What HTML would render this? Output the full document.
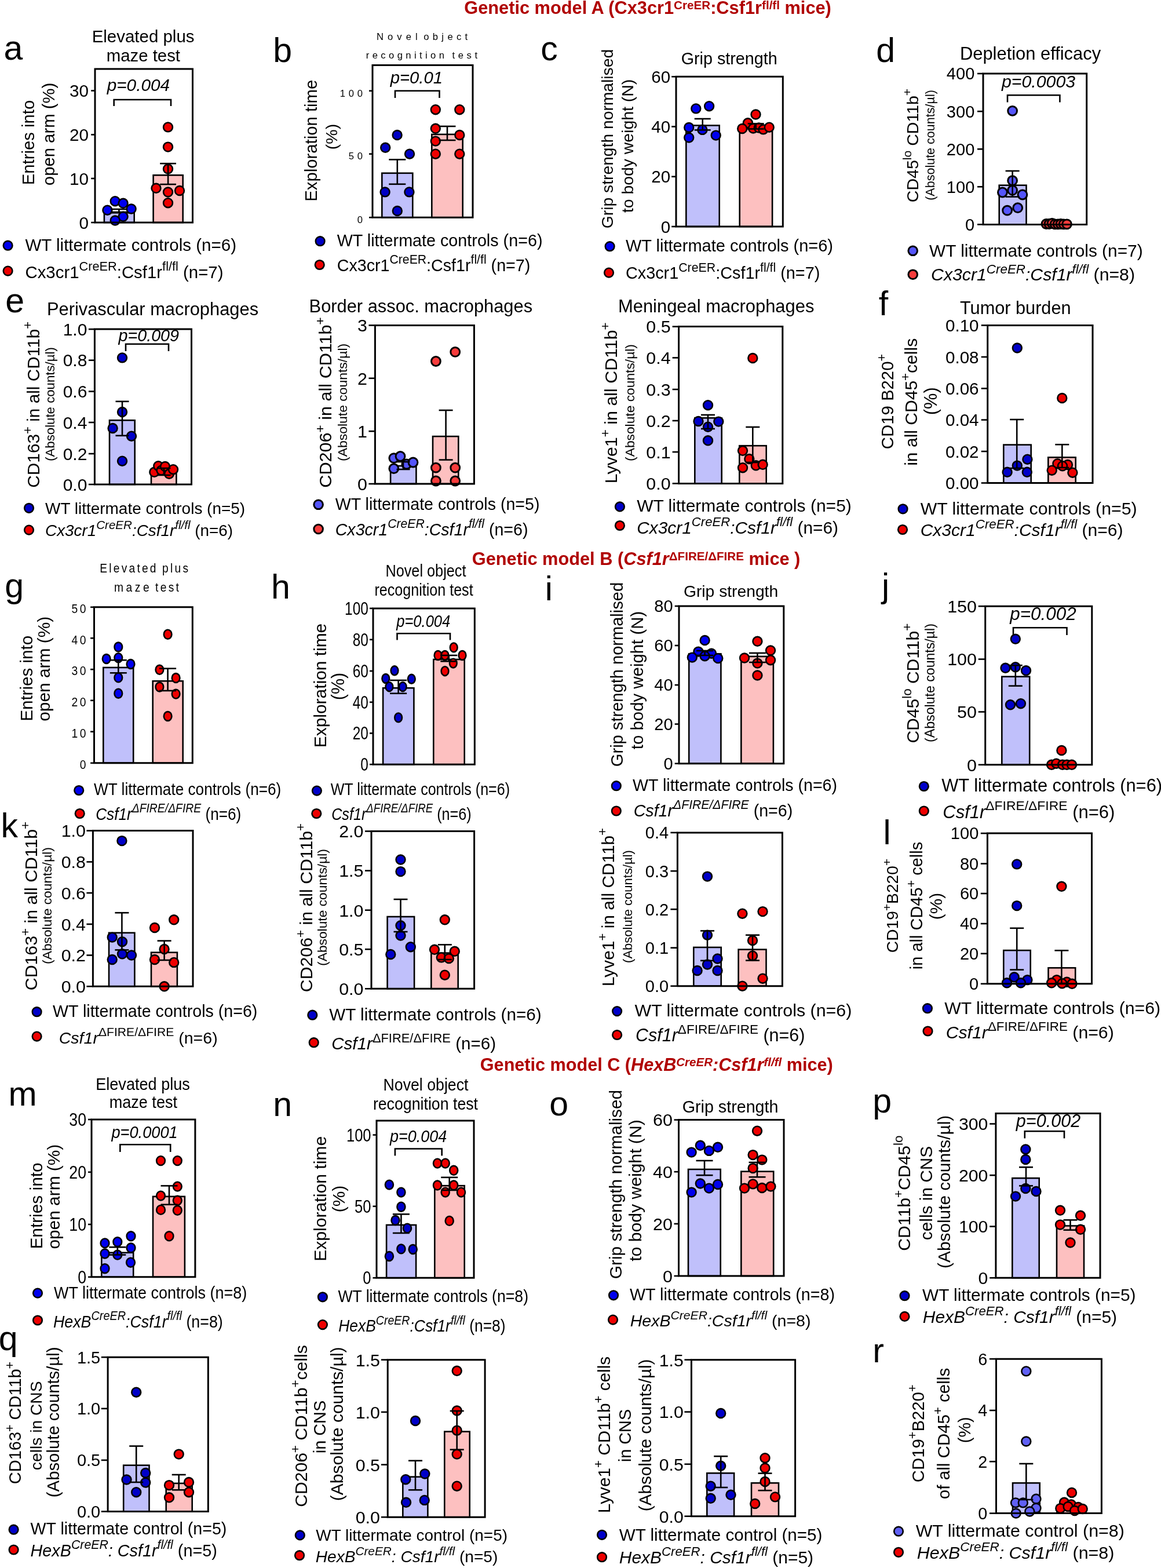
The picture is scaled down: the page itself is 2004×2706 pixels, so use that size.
<!DOCTYPE html><html><head><meta charset="utf-8"><title>Figure</title><style>html,body{margin:0;padding:0;background:#fff}svg{display:block}</style></head><body>
<svg width="2004" height="2706" viewBox="0 0 2004 2706" font-family='"Liberation Sans", Arial, sans-serif' fill="#000" stroke="none">
<rect x="0" y="0" width="2004" height="2706" fill="#fff"/>
<text x="801.22" y="23.90" font-size="30.76" textLength="633.66" lengthAdjust="spacingAndGlyphs" font-weight="bold" fill="#b00000"><tspan font-weight="bold">Genetic model A (Cx3cr1</tspan><tspan font-weight="bold" font-size="20.61" dy="-8.31">CreER</tspan><tspan font-weight="bold" dy="8.31">:Csf1r</tspan><tspan font-weight="bold" font-size="20.61" dy="-8.31">fl/fl</tspan><tspan font-weight="bold" dy="8.31"> mice)</tspan></text>
<text x="814.82" y="975.00" font-size="30.74" textLength="566.56" lengthAdjust="spacingAndGlyphs" font-weight="bold" fill="#b00000"><tspan font-weight="bold">Genetic model B (</tspan><tspan font-style="italic" font-weight="bold">Csf1r</tspan><tspan font-weight="bold" font-size="20.60" dy="-8.30">ΔFIRE/ΔFIRE</tspan><tspan font-weight="bold" dy="8.30"> mice )</tspan></text>
<text x="828.82" y="1848.30" font-size="30.61" textLength="608.85" lengthAdjust="spacingAndGlyphs" font-weight="bold" fill="#b00000"><tspan font-weight="bold">Genetic model C (</tspan><tspan font-style="italic" font-weight="bold">HexB</tspan><tspan font-style="italic" font-weight="bold" font-size="20.51" dy="-8.26">CreER</tspan><tspan font-style="italic" font-weight="bold" dy="8.26">:Csf1r</tspan><tspan font-style="italic" font-weight="bold" font-size="20.51" dy="-8.26">fl/fl</tspan><tspan font-weight="bold" dy="8.26"> mice)</tspan></text>
<rect x="179.90" y="367.30" width="51.80" height="16.70" fill="#c0c0fb" stroke="#000" stroke-width="2.60"/>
<rect x="264.60" y="302.30" width="51.10" height="81.70" fill="#fdc0c0" stroke="#000" stroke-width="2.60"/>
<circle cx="198.70" cy="347.20" r="7.90" fill="#0000ee" stroke="#000" stroke-width="2.60"/>
<circle cx="212.60" cy="350.80" r="7.90" fill="#0000ee" stroke="#000" stroke-width="2.60"/>
<circle cx="185.40" cy="362.70" r="7.90" fill="#0000ee" stroke="#000" stroke-width="2.60"/>
<circle cx="226.60" cy="360.50" r="7.90" fill="#0000ee" stroke="#000" stroke-width="2.60"/>
<circle cx="212.60" cy="373.80" r="7.90" fill="#0000ee" stroke="#000" stroke-width="2.60"/>
<circle cx="198.70" cy="380.50" r="7.90" fill="#0000ee" stroke="#000" stroke-width="2.60"/>
<circle cx="290.00" cy="219.40" r="7.90" fill="#ee0000" stroke="#000" stroke-width="2.60"/>
<circle cx="290.00" cy="253.60" r="7.90" fill="#ee0000" stroke="#000" stroke-width="2.60"/>
<circle cx="290.00" cy="291.50" r="7.90" fill="#ee0000" stroke="#000" stroke-width="2.60"/>
<circle cx="269.50" cy="324.80" r="7.90" fill="#ee0000" stroke="#000" stroke-width="2.60"/>
<circle cx="290.00" cy="331.50" r="7.90" fill="#ee0000" stroke="#000" stroke-width="2.60"/>
<circle cx="310.00" cy="329.00" r="7.90" fill="#ee0000" stroke="#000" stroke-width="2.60"/>
<circle cx="290.00" cy="350.20" r="7.90" fill="#ee0000" stroke="#000" stroke-width="2.60"/>
<g stroke="#000" stroke-linecap="butt">
<line x1="205.40" y1="361.00" x2="205.40" y2="366.00" stroke-width="2.60"/>
<line x1="190.90" y1="361.00" x2="219.90" y2="361.00" stroke-width="2.60"/>
<line x1="190.90" y1="366.00" x2="219.90" y2="366.00" stroke-width="2.60"/>
<line x1="290.10" y1="282.20" x2="290.10" y2="318.10" stroke-width="2.60"/>
<line x1="276.20" y1="282.20" x2="304.00" y2="282.20" stroke-width="2.60"/>
<line x1="276.20" y1="318.10" x2="304.00" y2="318.10" stroke-width="2.60"/>
<path d="M164.00 119.00 H332.50 V384.00 H164.00 Z" fill="none" stroke-width="3"/>
<line x1="157.20" y1="384.00" x2="164.00" y2="384.00" stroke-width="2.60"/>
<line x1="157.20" y1="308.00" x2="164.00" y2="308.00" stroke-width="2.60"/>
<line x1="157.20" y1="232.40" x2="164.00" y2="232.40" stroke-width="2.60"/>
<line x1="157.20" y1="156.50" x2="164.00" y2="156.50" stroke-width="2.60"/>
<path d="M196.70 183.00 V172.00 H295.00 V183.00" fill="none" stroke-width="2.6"/>
</g>
<text transform="translate(153.09 394.63) scale(1.000 1)" text-anchor="end" font-size="29.70" >0</text>
<text transform="translate(153.09 318.63) scale(1.000 1)" text-anchor="end" font-size="29.70" >10</text>
<text transform="translate(153.09 243.03) scale(1.000 1)" text-anchor="end" font-size="29.70" >20</text>
<text transform="translate(153.09 167.13) scale(1.000 1)" text-anchor="end" font-size="29.70" >30</text>
<text x="184.66" y="157.00" font-size="29.74" textLength="108.38" lengthAdjust="spacingAndGlyphs"><tspan font-style="italic">p=0.004</tspan></text>
<text x="158.67" y="72.60" font-size="29.45" textLength="176.86" lengthAdjust="spacingAndGlyphs"><tspan >Elevated plus</tspan></text>
<text x="183.68" y="106.00" font-size="29.38" textLength="127.35" lengthAdjust="spacingAndGlyphs"><tspan >maze test</tspan></text>
<text transform="translate(58.53 246.00) rotate(-90)" text-anchor="middle" font-size="29.25" textLength="146.34" lengthAdjust="spacingAndGlyphs"><tspan >Entries into</tspan></text>
<text transform="translate(93.61 231.50) rotate(-90)" text-anchor="middle" font-size="29.28" textLength="177.34" lengthAdjust="spacingAndGlyphs"><tspan >open arm (%)</tspan></text>
<circle cx="13.60" cy="423.70" r="7.80" fill="#0000ee" stroke="#000" stroke-width="2.60"/>
<text x="43.47" y="433.00" font-size="29.53" textLength="364.56" lengthAdjust="spacingAndGlyphs"><tspan >WT littermate controls (n=6)</tspan></text>
<circle cx="13.60" cy="467.60" r="7.80" fill="#ee0000" stroke="#000" stroke-width="2.60"/>
<text x="43.48" y="480.00" font-size="29.37" textLength="341.95" lengthAdjust="spacingAndGlyphs"><tspan >Cx3cr1</tspan><tspan font-size="21.74" dy="-12.63">CreER</tspan><tspan dy="12.63">:Csf1r</tspan><tspan font-size="21.74" dy="-12.63">fl/fl</tspan><tspan dy="12.63"> (n=7)</tspan></text>
<text x="6.40" y="103.20" font-size="59.00">a</text>
<rect x="659.30" y="298.80" width="53.00" height="76.50" fill="#c0c0fb" stroke="#000" stroke-width="2.60"/>
<rect x="745.30" y="231.90" width="53.40" height="143.40" fill="#fdc0c0" stroke="#000" stroke-width="2.60"/>
<circle cx="685.60" cy="233.00" r="7.90" fill="#0000c4" stroke="#000" stroke-width="2.60"/>
<circle cx="665.20" cy="254.80" r="7.90" fill="#0000c4" stroke="#000" stroke-width="2.60"/>
<circle cx="707.00" cy="265.70" r="7.90" fill="#0000c4" stroke="#000" stroke-width="2.60"/>
<circle cx="664.60" cy="331.40" r="7.90" fill="#0000c4" stroke="#000" stroke-width="2.60"/>
<circle cx="706.40" cy="331.40" r="7.90" fill="#0000c4" stroke="#000" stroke-width="2.60"/>
<circle cx="685.80" cy="364.00" r="7.90" fill="#0000c4" stroke="#000" stroke-width="2.60"/>
<circle cx="751.80" cy="189.20" r="7.90" fill="#ee0000" stroke="#000" stroke-width="2.60"/>
<circle cx="793.30" cy="189.20" r="7.90" fill="#ee0000" stroke="#000" stroke-width="2.60"/>
<circle cx="751.80" cy="221.80" r="7.90" fill="#ee0000" stroke="#000" stroke-width="2.60"/>
<circle cx="751.80" cy="243.60" r="7.90" fill="#ee0000" stroke="#000" stroke-width="2.60"/>
<circle cx="793.30" cy="233.00" r="7.90" fill="#ee0000" stroke="#000" stroke-width="2.60"/>
<circle cx="751.80" cy="265.70" r="7.90" fill="#ee0000" stroke="#000" stroke-width="2.60"/>
<circle cx="793.30" cy="265.70" r="7.90" fill="#ee0000" stroke="#000" stroke-width="2.60"/>
<g stroke="#000" stroke-linecap="butt">
<line x1="685.80" y1="275.40" x2="685.80" y2="317.80" stroke-width="2.60"/>
<line x1="671.30" y1="275.40" x2="700.30" y2="275.40" stroke-width="2.60"/>
<line x1="671.30" y1="317.80" x2="700.30" y2="317.80" stroke-width="2.60"/>
<line x1="772.00" y1="218.00" x2="772.00" y2="242.00" stroke-width="2.60"/>
<line x1="757.50" y1="218.00" x2="786.50" y2="218.00" stroke-width="2.60"/>
<line x1="757.50" y1="242.00" x2="786.50" y2="242.00" stroke-width="2.60"/>
<path d="M643.00 112.60 H816.00 V375.30 H643.00 Z" fill="none" stroke-width="3"/>
<line x1="637.00" y1="375.30" x2="643.00" y2="375.30" stroke-width="2.60"/>
<line x1="637.00" y1="265.70" x2="643.00" y2="265.70" stroke-width="2.60"/>
<line x1="637.00" y1="156.80" x2="643.00" y2="156.80" stroke-width="2.60"/>
<path d="M682.00 169.00 V156.80 H758.50 V169.00" fill="none" stroke-width="2.6"/>
</g>
<text transform="translate(631.76 385.04) scale(1.000 1)" text-anchor="end" font-size="16.60" letter-spacing="5.80">0</text>
<text transform="translate(631.76 275.44) scale(1.000 1)" text-anchor="end" font-size="16.60" letter-spacing="5.80">50</text>
<text transform="translate(631.76 166.54) scale(1.000 1)" text-anchor="end" font-size="16.60" letter-spacing="5.80">100</text>
<text x="673.68" y="143.80" font-size="29.27" textLength="90.34" lengthAdjust="spacingAndGlyphs"><tspan font-style="italic">p=0.01</tspan></text>
<text transform="translate(649.95 68.80) scale(1.000 1)" font-size="16.60" letter-spacing="7.10">Novel</text>
<text transform="translate(731.25 68.80) scale(1.000 1)" font-size="16.60" letter-spacing="6.33">object</text>
<text transform="translate(631.75 100.70) scale(1.000 1)" font-size="16.60" letter-spacing="5.40">recognition</text>
<text transform="translate(780.45 100.70) scale(1.000 1)" font-size="16.60" letter-spacing="5.62">test</text>
<text transform="translate(546.61 242.75) rotate(-90)" text-anchor="middle" font-size="29.27" textLength="209.84" lengthAdjust="spacingAndGlyphs"><tspan >Exploration time</tspan></text>
<text transform="translate(581.91 236.00) rotate(-90)" text-anchor="middle" font-size="28.51" textLength="44.28" lengthAdjust="spacingAndGlyphs"><tspan >(%)</tspan></text>
<circle cx="552.60" cy="416.20" r="7.80" fill="#0000c4" stroke="#000" stroke-width="2.60"/>
<text x="581.71" y="425.00" font-size="28.74" textLength="354.80" lengthAdjust="spacingAndGlyphs"><tspan >WT littermate controls (n=6)</tspan></text>
<circle cx="551.70" cy="457.00" r="7.80" fill="#ee0000" stroke="#000" stroke-width="2.60"/>
<text x="581.71" y="467.60" font-size="28.66" textLength="333.59" lengthAdjust="spacingAndGlyphs"><tspan >Cx3cr1</tspan><tspan font-size="21.21" dy="-12.32">CreER</tspan><tspan dy="12.32">:Csf1r</tspan><tspan font-size="21.21" dy="-12.32">fl/fl</tspan><tspan dy="12.32"> (n=7)</tspan></text>
<text x="471.30" y="107.20" font-size="59.00">b</text>
<rect x="1184.30" y="216.50" width="57.40" height="174.50" fill="#c0c0fb" stroke="#000" stroke-width="2.60"/>
<rect x="1276.70" y="222.30" width="56.40" height="168.70" fill="#fdc0c0" stroke="#000" stroke-width="2.60"/>
<circle cx="1201.30" cy="187.40" r="7.90" fill="#0000ee" stroke="#000" stroke-width="2.60"/>
<circle cx="1224.10" cy="183.20" r="7.90" fill="#0000ee" stroke="#000" stroke-width="2.60"/>
<circle cx="1189.20" cy="220.00" r="7.90" fill="#0000ee" stroke="#000" stroke-width="2.60"/>
<circle cx="1212.40" cy="223.90" r="7.90" fill="#0000ee" stroke="#000" stroke-width="2.60"/>
<circle cx="1189.20" cy="237.50" r="7.90" fill="#0000ee" stroke="#000" stroke-width="2.60"/>
<circle cx="1235.70" cy="233.60" r="7.90" fill="#0000ee" stroke="#000" stroke-width="2.60"/>
<circle cx="1304.50" cy="197.50" r="7.90" fill="#ee0000" stroke="#000" stroke-width="2.60"/>
<circle cx="1290.90" cy="212.30" r="7.90" fill="#ee0000" stroke="#000" stroke-width="2.60"/>
<circle cx="1281.20" cy="222.00" r="7.90" fill="#ee0000" stroke="#000" stroke-width="2.60"/>
<circle cx="1300.10" cy="221.50" r="7.90" fill="#ee0000" stroke="#000" stroke-width="2.60"/>
<circle cx="1309.80" cy="220.50" r="7.90" fill="#ee0000" stroke="#000" stroke-width="2.60"/>
<circle cx="1317.50" cy="223.40" r="7.90" fill="#ee0000" stroke="#000" stroke-width="2.60"/>
<circle cx="1327.70" cy="219.70" r="7.90" fill="#ee0000" stroke="#000" stroke-width="2.60"/>
<g stroke="#000" stroke-linecap="butt">
<line x1="1212.70" y1="205.00" x2="1212.70" y2="224.40" stroke-width="2.60"/>
<line x1="1198.70" y1="205.00" x2="1226.70" y2="205.00" stroke-width="2.60"/>
<line x1="1198.70" y1="224.40" x2="1226.70" y2="224.40" stroke-width="2.60"/>
<line x1="1304.70" y1="213.40" x2="1304.70" y2="222.50" stroke-width="2.60"/>
<line x1="1290.70" y1="213.40" x2="1318.70" y2="213.40" stroke-width="2.60"/>
<line x1="1290.70" y1="222.50" x2="1318.70" y2="222.50" stroke-width="2.60"/>
<path d="M1167.00 132.30 H1351.30 V391.00 H1167.00 Z" fill="none" stroke-width="3"/>
<line x1="1159.20" y1="391.00" x2="1167.00" y2="391.00" stroke-width="2.60"/>
<line x1="1159.20" y1="304.80" x2="1167.00" y2="304.80" stroke-width="2.60"/>
<line x1="1159.20" y1="218.50" x2="1167.00" y2="218.50" stroke-width="2.60"/>
<line x1="1159.20" y1="132.30" x2="1167.00" y2="132.30" stroke-width="2.60"/>
</g>
<text transform="translate(1157.18 401.56) scale(1.000 1)" text-anchor="end" font-size="29.50" >0</text>
<text transform="translate(1157.18 315.36) scale(1.000 1)" text-anchor="end" font-size="29.50" >20</text>
<text transform="translate(1157.18 229.06) scale(1.000 1)" text-anchor="end" font-size="29.50" >40</text>
<text transform="translate(1157.18 142.86) scale(1.000 1)" text-anchor="end" font-size="29.50" >60</text>
<text x="1175.71" y="110.50" font-size="28.73" textLength="166.00" lengthAdjust="spacingAndGlyphs"><tspan >Grip strength</tspan></text>
<text transform="translate(1058.35 239.50) rotate(-90)" text-anchor="middle" font-size="28.25" textLength="309.26" lengthAdjust="spacingAndGlyphs"><tspan >Grip strength normalised</tspan></text>
<text transform="translate(1093.38 252.00) rotate(-90)" text-anchor="middle" font-size="28.39" textLength="230.27" lengthAdjust="spacingAndGlyphs"><tspan >to body weight (N)</tspan></text>
<circle cx="1052.60" cy="425.20" r="7.80" fill="#0000ee" stroke="#000" stroke-width="2.60"/>
<text x="1080.00" y="434.30" font-size="29.00" textLength="358.02" lengthAdjust="spacingAndGlyphs"><tspan >WT littermate controls (n=6)</tspan></text>
<circle cx="1051.00" cy="470.60" r="7.80" fill="#ee0000" stroke="#000" stroke-width="2.60"/>
<text x="1080.00" y="481.00" font-size="28.81" textLength="335.30" lengthAdjust="spacingAndGlyphs"><tspan >Cx3cr1</tspan><tspan font-size="21.32" dy="-12.39">CreER</tspan><tspan dy="12.39">:Csf1r</tspan><tspan font-size="21.32" dy="-12.39">fl/fl</tspan><tspan dy="12.39"> (n=7)</tspan></text>
<text x="933.30" y="104.00" font-size="59.00">c</text>
<rect x="1724.70" y="319.70" width="46.80" height="67.70" fill="#c0c0fb" stroke="#000" stroke-width="2.60"/>
<rect x="1800.80" y="387.80" width="46.90" height="0.50" fill="#fdc0c0" stroke="#000" stroke-width="2.60"/>
<circle cx="1747.60" cy="191.30" r="7.90" fill="#5555fa" stroke="#000" stroke-width="3.00"/>
<circle cx="1747.60" cy="311.70" r="7.90" fill="#5555fa" stroke="#000" stroke-width="3.00"/>
<circle cx="1730.40" cy="332.00" r="7.90" fill="#5555fa" stroke="#000" stroke-width="3.00"/>
<circle cx="1747.60" cy="328.40" r="7.90" fill="#5555fa" stroke="#000" stroke-width="3.00"/>
<circle cx="1764.90" cy="336.00" r="7.90" fill="#5555fa" stroke="#000" stroke-width="3.00"/>
<circle cx="1738.60" cy="363.20" r="7.90" fill="#5555fa" stroke="#000" stroke-width="3.00"/>
<circle cx="1756.70" cy="358.70" r="7.90" fill="#5555fa" stroke="#000" stroke-width="3.00"/>
<circle cx="1806.00" cy="386.50" r="7.90" fill="#f83c3c" stroke="#000" stroke-width="3.00"/>
<circle cx="1811.00" cy="386.50" r="7.90" fill="#f83c3c" stroke="#000" stroke-width="3.00"/>
<circle cx="1816.00" cy="385.50" r="7.90" fill="#f83c3c" stroke="#000" stroke-width="3.00"/>
<circle cx="1821.00" cy="386.80" r="7.90" fill="#f83c3c" stroke="#000" stroke-width="3.00"/>
<circle cx="1826.00" cy="386.80" r="7.90" fill="#f83c3c" stroke="#000" stroke-width="3.00"/>
<circle cx="1831.00" cy="386.50" r="7.90" fill="#f83c3c" stroke="#000" stroke-width="3.00"/>
<circle cx="1836.00" cy="386.80" r="7.90" fill="#f83c3c" stroke="#000" stroke-width="3.00"/>
<circle cx="1841.50" cy="386.80" r="7.90" fill="#f83c3c" stroke="#000" stroke-width="3.00"/>
<g stroke="#000" stroke-linecap="butt">
<line x1="1747.60" y1="295.00" x2="1747.60" y2="339.60" stroke-width="2.60"/>
<line x1="1735.60" y1="295.00" x2="1759.60" y2="295.00" stroke-width="2.60"/>
<line x1="1735.60" y1="339.60" x2="1759.60" y2="339.60" stroke-width="2.60"/>
<path d="M1697.00 127.00 H1875.70 V387.40 H1697.00 Z" fill="none" stroke-width="3"/>
<line x1="1687.00" y1="387.40" x2="1697.00" y2="387.40" stroke-width="2.60"/>
<line x1="1687.00" y1="322.30" x2="1697.00" y2="322.30" stroke-width="2.60"/>
<line x1="1687.00" y1="257.30" x2="1697.00" y2="257.30" stroke-width="2.60"/>
<line x1="1687.00" y1="192.20" x2="1697.00" y2="192.20" stroke-width="2.60"/>
<line x1="1687.00" y1="127.00" x2="1697.00" y2="127.00" stroke-width="2.60"/>
<path d="M1739.00 176.50 V164.30 H1829.40 V176.50" fill="none" stroke-width="2.6"/>
</g>
<text transform="translate(1682.26 397.78) scale(1.000 1)" text-anchor="end" font-size="29.00" >0</text>
<text transform="translate(1682.26 332.68) scale(1.000 1)" text-anchor="end" font-size="29.00" >100</text>
<text transform="translate(1682.26 267.68) scale(1.000 1)" text-anchor="end" font-size="29.00" >200</text>
<text transform="translate(1682.26 202.58) scale(1.000 1)" text-anchor="end" font-size="29.00" >300</text>
<text transform="translate(1682.26 137.38) scale(1.000 1)" text-anchor="end" font-size="29.00" >400</text>
<text x="1729.04" y="151.30" font-size="30.23" textLength="127.02" lengthAdjust="spacingAndGlyphs"><tspan font-style="italic">p=0.0003</tspan></text>
<text x="1657.01" y="103.00" font-size="30.85" textLength="243.07" lengthAdjust="spacingAndGlyphs"><tspan >Depletion efficacy</tspan></text>
<text transform="translate(1585.27 251.00) rotate(-90)" text-anchor="middle" font-size="28.53" textLength="196.28" lengthAdjust="spacingAndGlyphs"><tspan >CD45</tspan><tspan font-size="21.11" dy="-12.27">lo</tspan><tspan dy="12.27"> CD11b</tspan><tspan font-size="21.11" dy="-12.27">+</tspan></text>
<text transform="translate(1612.60 250.50) rotate(-90)" text-anchor="middle" font-size="21.54" textLength="190.72" lengthAdjust="spacingAndGlyphs"><tspan >(Absolute counts/µl)</tspan></text>
<circle cx="1575.70" cy="432.80" r="7.80" fill="#5555fa" stroke="#000" stroke-width="3.00"/>
<text x="1604.06" y="442.50" font-size="29.85" textLength="368.59" lengthAdjust="spacingAndGlyphs"><tspan >WT littermate controls (n=7)</tspan></text>
<circle cx="1575.70" cy="473.70" r="7.80" fill="#f83c3c" stroke="#000" stroke-width="3.00"/>
<text x="1607.07" y="484.30" font-size="29.53" textLength="351.96" lengthAdjust="spacingAndGlyphs"><tspan font-style="italic">Cx3cr1</tspan><tspan font-style="italic" font-size="21.85" dy="-12.70">CreER</tspan><tspan font-style="italic" dy="12.70">:Csf1r</tspan><tspan font-style="italic" font-size="21.85" dy="-12.70">fl/fl</tspan><tspan dy="12.70">  (n=8)</tspan></text>
<text x="1512.20" y="106.80" font-size="59.00">d</text>
<rect x="189.00" y="725.30" width="43.70" height="110.70" fill="#c0c0fb" stroke="#000" stroke-width="2.60"/>
<rect x="261.00" y="816.10" width="43.40" height="19.90" fill="#fdc0c0" stroke="#000" stroke-width="2.60"/>
<circle cx="211.00" cy="617.40" r="7.90" fill="#0000c8" stroke="#000" stroke-width="2.60"/>
<circle cx="211.00" cy="711.00" r="7.90" fill="#0000c8" stroke="#000" stroke-width="2.60"/>
<circle cx="194.60" cy="739.00" r="7.90" fill="#0000c8" stroke="#000" stroke-width="2.60"/>
<circle cx="227.00" cy="752.70" r="7.90" fill="#0000c8" stroke="#000" stroke-width="2.60"/>
<circle cx="211.00" cy="795.70" r="7.90" fill="#0000c8" stroke="#000" stroke-width="2.60"/>
<circle cx="266.30" cy="814.80" r="7.90" fill="#ee0000" stroke="#000" stroke-width="2.60"/>
<circle cx="273.30" cy="804.20" r="7.90" fill="#ee0000" stroke="#000" stroke-width="2.60"/>
<circle cx="278.50" cy="811.70" r="7.90" fill="#ee0000" stroke="#000" stroke-width="2.60"/>
<circle cx="285.00" cy="805.00" r="7.90" fill="#ee0000" stroke="#000" stroke-width="2.60"/>
<circle cx="292.00" cy="817.80" r="7.90" fill="#ee0000" stroke="#000" stroke-width="2.60"/>
<circle cx="299.00" cy="810.20" r="7.90" fill="#ee0000" stroke="#000" stroke-width="2.60"/>
<g stroke="#000" stroke-linecap="butt">
<line x1="211.00" y1="692.80" x2="211.00" y2="751.80" stroke-width="2.60"/>
<line x1="199.50" y1="692.80" x2="222.50" y2="692.80" stroke-width="2.60"/>
<line x1="199.50" y1="751.80" x2="222.50" y2="751.80" stroke-width="2.60"/>
<line x1="283.00" y1="808.00" x2="283.00" y2="820.00" stroke-width="2.60"/>
<line x1="271.50" y1="808.00" x2="294.50" y2="808.00" stroke-width="2.60"/>
<line x1="271.50" y1="820.00" x2="294.50" y2="820.00" stroke-width="2.60"/>
<path d="M163.40 568.10 H330.50 V836.00 H163.40 Z" fill="none" stroke-width="3"/>
<line x1="152.90" y1="836.00" x2="163.40" y2="836.00" stroke-width="2.60"/>
<line x1="152.90" y1="783.00" x2="163.40" y2="783.00" stroke-width="2.60"/>
<line x1="152.90" y1="729.00" x2="163.40" y2="729.00" stroke-width="2.60"/>
<line x1="152.90" y1="675.50" x2="163.40" y2="675.50" stroke-width="2.60"/>
<line x1="152.90" y1="621.70" x2="163.40" y2="621.70" stroke-width="2.60"/>
<line x1="152.90" y1="568.10" x2="163.40" y2="568.10" stroke-width="2.60"/>
<path d="M217.00 606.00 V593.80 H291.00 V606.00" fill="none" stroke-width="2.6"/>
</g>
<text transform="translate(150.40 846.74) scale(1.000 1)" text-anchor="end" font-size="30.00" >0.0</text>
<text transform="translate(150.40 793.74) scale(1.000 1)" text-anchor="end" font-size="30.00" >0.2</text>
<text transform="translate(150.40 739.74) scale(1.000 1)" text-anchor="end" font-size="30.00" >0.4</text>
<text transform="translate(150.40 686.24) scale(1.000 1)" text-anchor="end" font-size="30.00" >0.6</text>
<text transform="translate(150.40 632.44) scale(1.000 1)" text-anchor="end" font-size="30.00" >0.8</text>
<text transform="translate(150.40 578.84) scale(1.000 1)" text-anchor="end" font-size="30.00" >1.0</text>
<text x="204.51" y="589.30" font-size="28.70" textLength="104.50" lengthAdjust="spacingAndGlyphs"><tspan font-style="italic">p=0.009</tspan></text>
<text x="80.91" y="543.90" font-size="30.83" textLength="365.17" lengthAdjust="spacingAndGlyphs"><tspan >Perivascular macrophages</tspan></text>
<text transform="translate(67.92 698.25) rotate(-90)" text-anchor="middle" font-size="28.96" textLength="286.82" lengthAdjust="spacingAndGlyphs"><tspan >CD163</tspan><tspan font-size="21.43" dy="-12.45">+</tspan><tspan dy="12.45"> in all  CD11b</tspan><tspan font-size="21.43" dy="-12.45">+</tspan></text>
<text transform="translate(93.58 697.50) rotate(-90)" text-anchor="middle" font-size="22.21" textLength="196.78" lengthAdjust="spacingAndGlyphs"><tspan >(Absolute counts/µl)</tspan></text>
<circle cx="50.00" cy="876.80" r="7.80" fill="#0000c8" stroke="#000" stroke-width="2.60"/>
<text x="78.04" y="886.80" font-size="27.96" textLength="345.14" lengthAdjust="spacingAndGlyphs"><tspan >WT littermate controls (n=5)</tspan></text>
<circle cx="50.00" cy="914.60" r="7.80" fill="#ee0000" stroke="#000" stroke-width="2.60"/>
<text x="78.05" y="925.20" font-size="27.84" textLength="323.93" lengthAdjust="spacingAndGlyphs"><tspan font-style="italic">Cx3cr1</tspan><tspan font-style="italic" font-size="20.60" dy="-11.97">CreER</tspan><tspan font-style="italic" dy="11.97">:Csf1r</tspan><tspan font-style="italic" font-size="20.60" dy="-11.97">fl/fl</tspan><tspan dy="11.97"> (n=6)</tspan></text>
<text x="9.30" y="538.70" font-size="59.00">e</text>
<rect x="674.10" y="804.00" width="44.30" height="31.00" fill="#c0c0fb" stroke="#000" stroke-width="2.60"/>
<rect x="747.00" y="753.10" width="44.30" height="81.90" fill="#fdc0c0" stroke="#000" stroke-width="2.60"/>
<circle cx="679.80" cy="790.60" r="7.90" fill="#5555fa" stroke="#000" stroke-width="3.00"/>
<circle cx="691.00" cy="787.50" r="7.90" fill="#5555fa" stroke="#000" stroke-width="3.00"/>
<circle cx="701.80" cy="801.00" r="7.90" fill="#5555fa" stroke="#000" stroke-width="3.00"/>
<circle cx="713.00" cy="798.00" r="7.90" fill="#5555fa" stroke="#000" stroke-width="3.00"/>
<circle cx="679.80" cy="808.70" r="7.90" fill="#5555fa" stroke="#000" stroke-width="3.00"/>
<circle cx="752.40" cy="623.50" r="7.90" fill="#f83c3c" stroke="#000" stroke-width="3.00"/>
<circle cx="785.70" cy="607.40" r="7.90" fill="#f83c3c" stroke="#000" stroke-width="3.00"/>
<circle cx="752.40" cy="807.20" r="7.90" fill="#f83c3c" stroke="#000" stroke-width="3.00"/>
<circle cx="785.70" cy="807.20" r="7.90" fill="#f83c3c" stroke="#000" stroke-width="3.00"/>
<circle cx="752.40" cy="830.00" r="7.90" fill="#f83c3c" stroke="#000" stroke-width="3.00"/>
<circle cx="785.70" cy="830.00" r="7.90" fill="#f83c3c" stroke="#000" stroke-width="3.00"/>
<g stroke="#000" stroke-linecap="butt">
<line x1="696.00" y1="797.00" x2="696.00" y2="810.00" stroke-width="2.60"/>
<line x1="684.50" y1="797.00" x2="707.50" y2="797.00" stroke-width="2.60"/>
<line x1="684.50" y1="810.00" x2="707.50" y2="810.00" stroke-width="2.60"/>
<line x1="769.60" y1="708.00" x2="769.60" y2="793.60" stroke-width="2.60"/>
<line x1="757.60" y1="708.00" x2="781.60" y2="708.00" stroke-width="2.60"/>
<line x1="757.60" y1="793.60" x2="781.60" y2="793.60" stroke-width="2.60"/>
<path d="M647.40 561.40 H818.40 V835.00 H647.40 Z" fill="none" stroke-width="3"/>
<line x1="636.40" y1="835.00" x2="647.40" y2="835.00" stroke-width="2.60"/>
<line x1="636.40" y1="744.20" x2="647.40" y2="744.20" stroke-width="2.60"/>
<line x1="636.40" y1="652.80" x2="647.40" y2="652.80" stroke-width="2.60"/>
<line x1="636.40" y1="561.40" x2="647.40" y2="561.40" stroke-width="2.60"/>
</g>
<text transform="translate(633.82 845.88) scale(1.000 1)" text-anchor="end" font-size="30.40" >0</text>
<text transform="translate(633.82 755.08) scale(1.000 1)" text-anchor="end" font-size="30.40" >1</text>
<text transform="translate(633.82 663.68) scale(1.000 1)" text-anchor="end" font-size="30.40" >2</text>
<text transform="translate(633.82 572.28) scale(1.000 1)" text-anchor="end" font-size="30.40" >3</text>
<text x="533.61" y="539.30" font-size="30.81" textLength="385.46" lengthAdjust="spacingAndGlyphs"><tspan >Border assoc. macrophages</tspan></text>
<text transform="translate(572.40 694.45) rotate(-90)" text-anchor="middle" font-size="29.72" textLength="294.48" lengthAdjust="spacingAndGlyphs"><tspan >CD206</tspan><tspan font-size="22.00" dy="-12.78">+</tspan><tspan dy="12.78"> in all  CD11b</tspan><tspan font-size="22.00" dy="-12.78">+</tspan></text>
<text transform="translate(598.56 694.40) rotate(-90)" text-anchor="middle" font-size="22.91" textLength="203.03" lengthAdjust="spacingAndGlyphs"><tspan >(Absolute counts/µl)</tspan></text>
<circle cx="549.60" cy="870.80" r="7.80" fill="#5555fa" stroke="#000" stroke-width="3.00"/>
<text x="578.71" y="879.80" font-size="28.57" textLength="352.69" lengthAdjust="spacingAndGlyphs"><tspan >WT littermate controls (n=5)</tspan></text>
<circle cx="549.60" cy="913.00" r="7.80" fill="#f83c3c" stroke="#000" stroke-width="3.00"/>
<text x="578.71" y="923.70" font-size="28.58" textLength="332.69" lengthAdjust="spacingAndGlyphs"><tspan font-style="italic">Cx3cr1</tspan><tspan font-style="italic" font-size="21.15" dy="-12.29">CreER</tspan><tspan font-style="italic" dy="12.29">:Csf1r</tspan><tspan font-style="italic" font-size="21.15" dy="-12.29">fl/fl</tspan><tspan dy="12.29"> (n=6)</tspan></text>
<rect x="1199.30" y="721.30" width="46.40" height="113.10" fill="#c0c0fb" stroke="#000" stroke-width="2.60"/>
<rect x="1276.30" y="769.20" width="46.40" height="65.20" fill="#fdc0c0" stroke="#000" stroke-width="2.60"/>
<circle cx="1222.00" cy="699.20" r="7.90" fill="#0000c8" stroke="#000" stroke-width="2.60"/>
<circle cx="1205.50" cy="727.00" r="7.90" fill="#0000c8" stroke="#000" stroke-width="2.60"/>
<circle cx="1240.30" cy="727.60" r="7.90" fill="#0000c8" stroke="#000" stroke-width="2.60"/>
<circle cx="1222.00" cy="736.70" r="7.90" fill="#0000c8" stroke="#000" stroke-width="2.60"/>
<circle cx="1222.00" cy="760.30" r="7.90" fill="#0000c8" stroke="#000" stroke-width="2.60"/>
<circle cx="1299.30" cy="618.00" r="7.90" fill="#ee0000" stroke="#000" stroke-width="2.60"/>
<circle cx="1282.00" cy="777.80" r="7.90" fill="#ee0000" stroke="#000" stroke-width="2.60"/>
<circle cx="1293.30" cy="792.00" r="7.90" fill="#ee0000" stroke="#000" stroke-width="2.60"/>
<circle cx="1282.00" cy="807.20" r="7.90" fill="#ee0000" stroke="#000" stroke-width="2.60"/>
<circle cx="1304.80" cy="803.30" r="7.90" fill="#ee0000" stroke="#000" stroke-width="2.60"/>
<circle cx="1316.60" cy="801.80" r="7.90" fill="#ee0000" stroke="#000" stroke-width="2.60"/>
<g stroke="#000" stroke-linecap="butt">
<line x1="1222.00" y1="716.00" x2="1222.00" y2="740.00" stroke-width="2.60"/>
<line x1="1210.00" y1="716.00" x2="1234.00" y2="716.00" stroke-width="2.60"/>
<line x1="1210.00" y1="740.00" x2="1234.00" y2="740.00" stroke-width="2.60"/>
<line x1="1299.30" y1="737.00" x2="1299.30" y2="798.00" stroke-width="2.60"/>
<line x1="1287.30" y1="737.00" x2="1311.30" y2="737.00" stroke-width="2.60"/>
<line x1="1287.30" y1="798.00" x2="1311.30" y2="798.00" stroke-width="2.60"/>
<path d="M1171.60 563.60 H1350.80 V834.40 H1171.60 Z" fill="none" stroke-width="3"/>
<line x1="1160.60" y1="834.40" x2="1171.60" y2="834.40" stroke-width="2.60"/>
<line x1="1160.60" y1="780.00" x2="1171.60" y2="780.00" stroke-width="2.60"/>
<line x1="1160.60" y1="726.00" x2="1171.60" y2="726.00" stroke-width="2.60"/>
<line x1="1160.60" y1="672.00" x2="1171.60" y2="672.00" stroke-width="2.60"/>
<line x1="1160.60" y1="617.40" x2="1171.60" y2="617.40" stroke-width="2.60"/>
<line x1="1160.60" y1="563.60" x2="1171.60" y2="563.60" stroke-width="2.60"/>
</g>
<text transform="translate(1157.62 845.28) scale(1.000 1)" text-anchor="end" font-size="30.40" >0.0</text>
<text transform="translate(1157.62 790.88) scale(1.000 1)" text-anchor="end" font-size="30.40" >0.1</text>
<text transform="translate(1157.62 736.88) scale(1.000 1)" text-anchor="end" font-size="30.40" >0.2</text>
<text transform="translate(1157.62 682.88) scale(1.000 1)" text-anchor="end" font-size="30.40" >0.3</text>
<text transform="translate(1157.62 628.28) scale(1.000 1)" text-anchor="end" font-size="30.40" >0.4</text>
<text transform="translate(1157.62 574.48) scale(1.000 1)" text-anchor="end" font-size="30.40" >0.5</text>
<text x="1067.01" y="539.30" font-size="30.89" textLength="338.37" lengthAdjust="spacingAndGlyphs"><tspan >Meningeal macrophages</tspan></text>
<text transform="translate(1064.67 695.25) rotate(-90)" text-anchor="middle" font-size="29.48" textLength="277.86" lengthAdjust="spacingAndGlyphs"><tspan >Lyve1</tspan><tspan font-size="21.82" dy="-12.68">+</tspan><tspan dy="12.68"> in all  CD11b</tspan><tspan font-size="21.82" dy="-12.68">+</tspan></text>
<text transform="translate(1094.92 695.00) rotate(-90)" text-anchor="middle" font-size="22.78" textLength="201.82" lengthAdjust="spacingAndGlyphs"><tspan >(Absolute counts/µl)</tspan></text>
<circle cx="1069.90" cy="874.40" r="7.80" fill="#0000c8" stroke="#000" stroke-width="2.60"/>
<text x="1099.15" y="882.90" font-size="30.02" textLength="370.70" lengthAdjust="spacingAndGlyphs"><tspan >WT littermate controls (n=5)</tspan></text>
<circle cx="1069.90" cy="907.00" r="7.80" fill="#ee0000" stroke="#000" stroke-width="2.60"/>
<text x="1099.16" y="920.70" font-size="29.88" textLength="347.89" lengthAdjust="spacingAndGlyphs"><tspan font-style="italic">Cx3cr1</tspan><tspan font-style="italic" font-size="22.11" dy="-12.85">CreER</tspan><tspan font-style="italic" dy="12.85">:Csf1r</tspan><tspan font-style="italic" font-size="22.11" dy="-12.85">fl/fl</tspan><tspan dy="12.85"> (n=6)</tspan></text>
<rect x="1732.30" y="767.60" width="47.40" height="65.90" fill="#c0c0fb" stroke="#000" stroke-width="2.60"/>
<rect x="1809.30" y="789.30" width="47.40" height="44.20" fill="#fdc0c0" stroke="#000" stroke-width="2.60"/>
<circle cx="1755.80" cy="600.50" r="7.90" fill="#0000c8" stroke="#000" stroke-width="2.60"/>
<circle cx="1773.40" cy="792.70" r="7.90" fill="#0000c8" stroke="#000" stroke-width="2.60"/>
<circle cx="1755.80" cy="803.60" r="7.90" fill="#0000c8" stroke="#000" stroke-width="2.60"/>
<circle cx="1738.60" cy="814.80" r="7.90" fill="#0000c8" stroke="#000" stroke-width="2.60"/>
<circle cx="1772.80" cy="814.80" r="7.90" fill="#0000c8" stroke="#000" stroke-width="2.60"/>
<circle cx="1833.30" cy="687.00" r="7.90" fill="#ee0000" stroke="#000" stroke-width="2.60"/>
<circle cx="1825.40" cy="800.20" r="7.90" fill="#ee0000" stroke="#000" stroke-width="2.60"/>
<circle cx="1843.00" cy="802.00" r="7.90" fill="#ee0000" stroke="#000" stroke-width="2.60"/>
<circle cx="1834.00" cy="804.20" r="7.90" fill="#ee0000" stroke="#000" stroke-width="2.60"/>
<circle cx="1815.70" cy="811.70" r="7.90" fill="#ee0000" stroke="#000" stroke-width="2.60"/>
<circle cx="1851.40" cy="815.70" r="7.90" fill="#ee0000" stroke="#000" stroke-width="2.60"/>
<g stroke="#000" stroke-linecap="butt">
<line x1="1755.20" y1="724.00" x2="1755.20" y2="808.00" stroke-width="2.60"/>
<line x1="1743.20" y1="724.00" x2="1767.20" y2="724.00" stroke-width="2.60"/>
<line x1="1743.20" y1="808.00" x2="1767.20" y2="808.00" stroke-width="2.60"/>
<line x1="1833.30" y1="767.20" x2="1833.30" y2="807.00" stroke-width="2.60"/>
<line x1="1821.30" y1="767.20" x2="1845.30" y2="767.20" stroke-width="2.60"/>
<line x1="1821.30" y1="807.00" x2="1845.30" y2="807.00" stroke-width="2.60"/>
<path d="M1704.70 561.40 H1886.00 V833.50 H1704.70 Z" fill="none" stroke-width="3"/>
<line x1="1693.70" y1="833.50" x2="1704.70" y2="833.50" stroke-width="2.60"/>
<line x1="1693.70" y1="779.00" x2="1704.70" y2="779.00" stroke-width="2.60"/>
<line x1="1693.70" y1="724.60" x2="1704.70" y2="724.60" stroke-width="2.60"/>
<line x1="1693.70" y1="670.40" x2="1704.70" y2="670.40" stroke-width="2.60"/>
<line x1="1693.70" y1="616.00" x2="1704.70" y2="616.00" stroke-width="2.60"/>
<line x1="1693.70" y1="561.40" x2="1704.70" y2="561.40" stroke-width="2.60"/>
</g>
<text transform="translate(1689.58 844.10) scale(1.000 1)" text-anchor="end" font-size="29.60" >0.00</text>
<text transform="translate(1689.58 789.60) scale(1.000 1)" text-anchor="end" font-size="29.60" >0.02</text>
<text transform="translate(1689.58 735.20) scale(1.000 1)" text-anchor="end" font-size="29.60" >0.04</text>
<text transform="translate(1689.58 681.00) scale(1.000 1)" text-anchor="end" font-size="29.60" >0.06</text>
<text transform="translate(1689.58 626.60) scale(1.000 1)" text-anchor="end" font-size="29.60" >0.08</text>
<text transform="translate(1689.58 572.00) scale(1.000 1)" text-anchor="end" font-size="29.60" >0.10</text>
<text x="1657.02" y="541.50" font-size="30.66" textLength="191.55" lengthAdjust="spacingAndGlyphs"><tspan >Tumor burden</tspan></text>
<text transform="translate(1541.56 693.00) rotate(-90)" text-anchor="middle" font-size="29.34" textLength="164.35" lengthAdjust="spacingAndGlyphs"><tspan >CD19 B220</tspan><tspan font-size="21.71" dy="-12.61">+</tspan></text>
<text transform="translate(1582.81 693.80) rotate(-90)" text-anchor="middle" font-size="30.03" textLength="220.00" lengthAdjust="spacingAndGlyphs"><tspan >in all CD45</tspan><tspan font-size="22.22" dy="-12.91">+</tspan><tspan dy="12.91">cells</tspan></text>
<text transform="translate(1617.00 692.25) rotate(-90)" text-anchor="middle" font-size="30.76" textLength="47.96" lengthAdjust="spacingAndGlyphs"><tspan >(%)</tspan></text>
<circle cx="1558.50" cy="878.30" r="7.80" fill="#0000c8" stroke="#000" stroke-width="2.60"/>
<text x="1588.64" y="888.30" font-size="30.29" textLength="374.02" lengthAdjust="spacingAndGlyphs"><tspan >WT littermate controls (n=5)</tspan></text>
<circle cx="1558.00" cy="914.00" r="7.80" fill="#ee0000" stroke="#000" stroke-width="2.60"/>
<text x="1588.65" y="925.20" font-size="30.04" textLength="349.80" lengthAdjust="spacingAndGlyphs"><tspan font-style="italic">Cx3cr1</tspan><tspan font-style="italic" font-size="22.23" dy="-12.92">CreER</tspan><tspan font-style="italic" dy="12.92">:Csf1r</tspan><tspan font-style="italic" font-size="22.23" dy="-12.92">fl/fl</tspan><tspan dy="12.92"> (n=6)</tspan></text>
<text x="1516.70" y="543.90" font-size="59.00">f</text>
<rect x="178.30" y="1152.00" width="51.90" height="164.80" fill="#c0c0fb" stroke="#000" stroke-width="2.60"/>
<rect x="263.70" y="1175.30" width="52.00" height="141.50" fill="#fdc0c0" stroke="#000" stroke-width="2.60"/>
<ellipse cx="204.30" cy="1116.50" rx="6.80" ry="7.90" fill="#0000ee" stroke="#000" stroke-width="2.60"/>
<ellipse cx="183.70" cy="1137.00" rx="6.80" ry="7.90" fill="#0000ee" stroke="#000" stroke-width="2.60"/>
<ellipse cx="204.30" cy="1135.20" rx="6.80" ry="7.90" fill="#0000ee" stroke="#000" stroke-width="2.60"/>
<ellipse cx="225.50" cy="1146.00" rx="6.80" ry="7.90" fill="#0000ee" stroke="#000" stroke-width="2.60"/>
<ellipse cx="204.30" cy="1169.40" rx="6.80" ry="7.90" fill="#0000ee" stroke="#000" stroke-width="2.60"/>
<ellipse cx="204.30" cy="1196.70" rx="6.80" ry="7.90" fill="#0000ee" stroke="#000" stroke-width="2.60"/>
<ellipse cx="289.60" cy="1094.70" rx="6.80" ry="7.90" fill="#ee0000" stroke="#000" stroke-width="2.60"/>
<ellipse cx="275.40" cy="1155.80" rx="6.80" ry="7.90" fill="#ee0000" stroke="#000" stroke-width="2.60"/>
<ellipse cx="303.60" cy="1170.00" rx="6.80" ry="7.90" fill="#ee0000" stroke="#000" stroke-width="2.60"/>
<ellipse cx="275.40" cy="1185.50" rx="6.80" ry="7.90" fill="#ee0000" stroke="#000" stroke-width="2.60"/>
<ellipse cx="303.60" cy="1197.60" rx="6.80" ry="7.90" fill="#ee0000" stroke="#000" stroke-width="2.60"/>
<ellipse cx="289.60" cy="1236.00" rx="6.80" ry="7.90" fill="#ee0000" stroke="#000" stroke-width="2.60"/>
<g stroke="#000" stroke-linecap="butt">
<line x1="204.30" y1="1139.20" x2="204.30" y2="1161.30" stroke-width="2.60"/>
<line x1="189.80" y1="1139.20" x2="218.80" y2="1139.20" stroke-width="2.60"/>
<line x1="189.80" y1="1161.30" x2="218.80" y2="1161.30" stroke-width="2.60"/>
<line x1="289.60" y1="1153.70" x2="289.60" y2="1192.00" stroke-width="2.60"/>
<line x1="275.10" y1="1153.70" x2="304.10" y2="1153.70" stroke-width="2.60"/>
<line x1="275.10" y1="1192.00" x2="304.10" y2="1192.00" stroke-width="2.60"/>
<path d="M162.50 1047.80 H332.30 V1316.80 H162.50 Z" fill="none" stroke-width="3"/>
<line x1="156.10" y1="1316.80" x2="162.50" y2="1316.80" stroke-width="2.60"/>
<line x1="156.10" y1="1262.70" x2="162.50" y2="1262.70" stroke-width="2.60"/>
<line x1="156.10" y1="1208.80" x2="162.50" y2="1208.80" stroke-width="2.60"/>
<line x1="156.10" y1="1155.20" x2="162.50" y2="1155.20" stroke-width="2.60"/>
<line x1="156.10" y1="1101.30" x2="162.50" y2="1101.30" stroke-width="2.60"/>
<line x1="156.10" y1="1047.80" x2="162.50" y2="1047.80" stroke-width="2.60"/>
</g>
<text transform="translate(151.97 1327.04) scale(0.880 1)" text-anchor="end" font-size="21.90" letter-spacing="3.98">0</text>
<text transform="translate(151.97 1272.94) scale(0.880 1)" text-anchor="end" font-size="21.90" letter-spacing="3.98">10</text>
<text transform="translate(151.97 1219.04) scale(0.880 1)" text-anchor="end" font-size="21.90" letter-spacing="3.98">20</text>
<text transform="translate(151.97 1165.44) scale(0.880 1)" text-anchor="end" font-size="21.90" letter-spacing="3.98">30</text>
<text transform="translate(151.97 1111.54) scale(0.880 1)" text-anchor="end" font-size="21.90" letter-spacing="3.98">40</text>
<text transform="translate(151.97 1058.04) scale(0.880 1)" text-anchor="end" font-size="21.90" letter-spacing="3.98">50</text>
<text transform="translate(172.24 988.10) scale(0.860 1)" font-size="22.30" letter-spacing="3.77">Elevated</text>
<text transform="translate(280.04 988.10) scale(0.860 1)" font-size="22.30" letter-spacing="3.86">plus</text>
<text transform="translate(197.04 1020.50) scale(0.860 1)" font-size="22.30" letter-spacing="5.32">maze</text>
<text transform="translate(268.04 1020.50) scale(0.860 1)" font-size="22.30" letter-spacing="3.85">test</text>
<text transform="translate(56.05 1170.80) rotate(-90)" text-anchor="middle" font-size="29.57" textLength="147.97" lengthAdjust="spacingAndGlyphs"><tspan >Entries into</tspan></text>
<text transform="translate(85.77 1154.30) rotate(-90)" text-anchor="middle" font-size="29.87" textLength="180.99" lengthAdjust="spacingAndGlyphs"><tspan >open arm (%)</tspan></text>
<circle cx="136.20" cy="1364.00" r="7.80" fill="#0000ee" stroke="#000" stroke-width="2.60"/>
<text x="162.08" y="1372.20" font-size="29.30" textLength="323.24" lengthAdjust="spacingAndGlyphs"><tspan >WT littermate controls (n=6)</tspan></text>
<circle cx="137.70" cy="1404.00" r="7.80" fill="#ee0000" stroke="#000" stroke-width="2.60"/>
<text x="165.18" y="1414.60" font-size="29.30" textLength="251.14" lengthAdjust="spacingAndGlyphs"><tspan font-style="italic">Csf1r</tspan><tspan font-style="italic" font-size="21.68" dy="-12.60">ΔFIRE/ΔFIRE</tspan><tspan dy="12.60"> (n=6)</tspan></text>
<text x="8.20" y="1031.40" font-size="59.00">g</text>
<rect x="661.10" y="1187.30" width="53.30" height="131.90" fill="#c0c0fb" stroke="#000" stroke-width="2.60"/>
<rect x="748.30" y="1138.00" width="53.40" height="181.20" fill="#fdc0c0" stroke="#000" stroke-width="2.60"/>
<ellipse cx="681.00" cy="1157.30" rx="6.34" ry="7.90" fill="#0000c8" stroke="#000" stroke-width="2.60"/>
<ellipse cx="665.80" cy="1171.00" rx="6.34" ry="7.90" fill="#0000c8" stroke="#000" stroke-width="2.60"/>
<ellipse cx="710.30" cy="1171.80" rx="6.34" ry="7.90" fill="#0000c8" stroke="#000" stroke-width="2.60"/>
<ellipse cx="671.90" cy="1185.20" rx="6.34" ry="7.90" fill="#0000c8" stroke="#000" stroke-width="2.60"/>
<ellipse cx="695.20" cy="1185.20" rx="6.34" ry="7.90" fill="#0000c8" stroke="#000" stroke-width="2.60"/>
<ellipse cx="687.60" cy="1238.40" rx="6.34" ry="7.90" fill="#0000c8" stroke="#000" stroke-width="2.60"/>
<ellipse cx="783.20" cy="1117.40" rx="6.34" ry="7.90" fill="#ee0000" stroke="#000" stroke-width="2.60"/>
<ellipse cx="756.00" cy="1131.00" rx="6.34" ry="7.90" fill="#ee0000" stroke="#000" stroke-width="2.60"/>
<ellipse cx="768.00" cy="1131.00" rx="6.34" ry="7.90" fill="#ee0000" stroke="#000" stroke-width="2.60"/>
<ellipse cx="798.00" cy="1131.00" rx="6.34" ry="7.90" fill="#ee0000" stroke="#000" stroke-width="2.60"/>
<ellipse cx="782.30" cy="1144.60" rx="6.34" ry="7.90" fill="#ee0000" stroke="#000" stroke-width="2.60"/>
<ellipse cx="768.00" cy="1158.20" rx="6.34" ry="7.90" fill="#ee0000" stroke="#000" stroke-width="2.60"/>
<g stroke="#000" stroke-linecap="butt">
<line x1="687.60" y1="1174.00" x2="687.60" y2="1196.70" stroke-width="2.60"/>
<line x1="673.10" y1="1174.00" x2="702.10" y2="1174.00" stroke-width="2.60"/>
<line x1="673.10" y1="1196.70" x2="702.10" y2="1196.70" stroke-width="2.60"/>
<line x1="774.80" y1="1131.00" x2="774.80" y2="1141.30" stroke-width="2.60"/>
<line x1="760.30" y1="1131.00" x2="789.30" y2="1131.00" stroke-width="2.60"/>
<line x1="760.30" y1="1141.30" x2="789.30" y2="1141.30" stroke-width="2.60"/>
<path d="M644.00 1049.90 H819.30 V1319.20 H644.00 Z" fill="none" stroke-width="3"/>
<line x1="638.00" y1="1319.20" x2="644.00" y2="1319.20" stroke-width="2.60"/>
<line x1="638.00" y1="1265.40" x2="644.00" y2="1265.40" stroke-width="2.60"/>
<line x1="638.00" y1="1211.80" x2="644.00" y2="1211.80" stroke-width="2.60"/>
<line x1="638.00" y1="1158.00" x2="644.00" y2="1158.00" stroke-width="2.60"/>
<line x1="638.00" y1="1103.80" x2="644.00" y2="1103.80" stroke-width="2.60"/>
<line x1="638.00" y1="1049.90" x2="644.00" y2="1049.90" stroke-width="2.60"/>
<path d="M685.50 1104.40 V1093.20 H777.00 V1104.40" fill="none" stroke-width="2.6"/>
</g>
<text transform="translate(635.78 1330.12) scale(0.800 1)" text-anchor="end" font-size="30.50" >0</text>
<text transform="translate(635.78 1276.32) scale(0.800 1)" text-anchor="end" font-size="30.50" >20</text>
<text transform="translate(635.78 1222.72) scale(0.800 1)" text-anchor="end" font-size="30.50" >40</text>
<text transform="translate(635.78 1168.92) scale(0.800 1)" text-anchor="end" font-size="30.50" >60</text>
<text transform="translate(635.78 1114.72) scale(0.800 1)" text-anchor="end" font-size="30.50" >80</text>
<text transform="translate(635.78 1060.82) scale(0.800 1)" text-anchor="end" font-size="30.50" >100</text>
<text x="684.18" y="1081.70" font-size="29.30" textLength="93.14" lengthAdjust="spacingAndGlyphs"><tspan font-style="italic">p=0.004</tspan></text>
<text x="665.38" y="995.40" font-size="29.30" textLength="139.14" lengthAdjust="spacingAndGlyphs"><tspan >Novel object</tspan></text>
<text x="646.38" y="1028.00" font-size="29.30" textLength="170.24" lengthAdjust="spacingAndGlyphs"><tspan >recognition test</tspan></text>
<text transform="translate(563.07 1183.00) rotate(-90)" text-anchor="middle" font-size="29.89" textLength="214.39" lengthAdjust="spacingAndGlyphs"><tspan >Exploration time</tspan></text>
<text transform="translate(593.51 1184.50) rotate(-90)" text-anchor="middle" font-size="30.44" textLength="47.44" lengthAdjust="spacingAndGlyphs"><tspan >(%)</tspan></text>
<circle cx="546.90" cy="1364.60" r="7.80" fill="#0000c8" stroke="#000" stroke-width="2.60"/>
<text x="570.68" y="1372.20" font-size="29.30" textLength="309.34" lengthAdjust="spacingAndGlyphs"><tspan >WT littermate controls (n=6)</tspan></text>
<circle cx="546.30" cy="1404.00" r="7.80" fill="#ee0000" stroke="#000" stroke-width="2.60"/>
<text x="572.18" y="1414.60" font-size="29.30" textLength="241.44" lengthAdjust="spacingAndGlyphs"><tspan font-style="italic">Csf1r</tspan><tspan font-style="italic" font-size="21.68" dy="-12.60">ΔFIRE/ΔFIRE</tspan><tspan dy="12.60"> (n=6)</tspan></text>
<text x="467.90" y="1033.00" font-size="59.00">h</text>
<rect x="1189.20" y="1128.30" width="55.20" height="189.40" fill="#c0c0fb" stroke="#000" stroke-width="2.60"/>
<rect x="1279.30" y="1132.90" width="55.60" height="184.80" fill="#fdc0c0" stroke="#000" stroke-width="2.60"/>
<circle cx="1216.60" cy="1105.00" r="7.90" fill="#0000ee" stroke="#000" stroke-width="2.60"/>
<circle cx="1205.40" cy="1124.60" r="7.90" fill="#0000ee" stroke="#000" stroke-width="2.60"/>
<circle cx="1228.00" cy="1127.70" r="7.90" fill="#0000ee" stroke="#000" stroke-width="2.60"/>
<circle cx="1194.80" cy="1134.60" r="7.90" fill="#0000ee" stroke="#000" stroke-width="2.60"/>
<circle cx="1216.60" cy="1132.20" r="7.90" fill="#0000ee" stroke="#000" stroke-width="2.60"/>
<circle cx="1239.30" cy="1136.10" r="7.90" fill="#0000ee" stroke="#000" stroke-width="2.60"/>
<circle cx="1307.40" cy="1106.80" r="7.90" fill="#ee0000" stroke="#000" stroke-width="2.60"/>
<circle cx="1330.00" cy="1122.50" r="7.90" fill="#ee0000" stroke="#000" stroke-width="2.60"/>
<circle cx="1285.00" cy="1135.50" r="7.90" fill="#ee0000" stroke="#000" stroke-width="2.60"/>
<circle cx="1330.00" cy="1139.20" r="7.90" fill="#ee0000" stroke="#000" stroke-width="2.60"/>
<circle cx="1307.40" cy="1144.60" r="7.90" fill="#ee0000" stroke="#000" stroke-width="2.60"/>
<circle cx="1307.40" cy="1165.50" r="7.90" fill="#ee0000" stroke="#000" stroke-width="2.60"/>
<g stroke="#000" stroke-linecap="butt">
<line x1="1216.60" y1="1123.00" x2="1216.60" y2="1131.00" stroke-width="2.60"/>
<line x1="1202.10" y1="1123.00" x2="1231.10" y2="1123.00" stroke-width="2.60"/>
<line x1="1202.10" y1="1131.00" x2="1231.10" y2="1131.00" stroke-width="2.60"/>
<line x1="1307.40" y1="1127.00" x2="1307.40" y2="1143.00" stroke-width="2.60"/>
<line x1="1292.90" y1="1127.00" x2="1321.90" y2="1127.00" stroke-width="2.60"/>
<line x1="1292.90" y1="1143.00" x2="1321.90" y2="1143.00" stroke-width="2.60"/>
<path d="M1172.00 1046.00 H1352.80 V1317.70 H1172.00 Z" fill="none" stroke-width="3"/>
<line x1="1164.70" y1="1317.70" x2="1172.00" y2="1317.70" stroke-width="2.60"/>
<line x1="1164.70" y1="1249.60" x2="1172.00" y2="1249.60" stroke-width="2.60"/>
<line x1="1164.70" y1="1182.10" x2="1172.00" y2="1182.10" stroke-width="2.60"/>
<line x1="1164.70" y1="1114.00" x2="1172.00" y2="1114.00" stroke-width="2.60"/>
<line x1="1164.70" y1="1046.00" x2="1172.00" y2="1046.00" stroke-width="2.60"/>
</g>
<text transform="translate(1161.56 1328.08) scale(1.000 1)" text-anchor="end" font-size="29.00" >0</text>
<text transform="translate(1161.56 1259.98) scale(1.000 1)" text-anchor="end" font-size="29.00" >20</text>
<text transform="translate(1161.56 1192.48) scale(1.000 1)" text-anchor="end" font-size="29.00" >40</text>
<text transform="translate(1161.56 1124.38) scale(1.000 1)" text-anchor="end" font-size="29.00" >60</text>
<text transform="translate(1161.56 1056.38) scale(1.000 1)" text-anchor="end" font-size="29.00" >80</text>
<text x="1179.93" y="1030.20" font-size="28.26" textLength="163.26" lengthAdjust="spacingAndGlyphs"><tspan >Grip strength</tspan></text>
<text transform="translate(1075.26 1164.00) rotate(-90)" text-anchor="middle" font-size="29.07" textLength="318.33" lengthAdjust="spacingAndGlyphs"><tspan >Grip strength normalised</tspan></text>
<text transform="translate(1110.14 1174.00) rotate(-90)" text-anchor="middle" font-size="29.37" textLength="238.35" lengthAdjust="spacingAndGlyphs"><tspan >to body weight (N)</tspan></text>
<circle cx="1063.80" cy="1356.20" r="7.80" fill="#0000ee" stroke="#000" stroke-width="2.60"/>
<text x="1092.11" y="1364.60" font-size="28.59" textLength="352.89" lengthAdjust="spacingAndGlyphs"><tspan >WT littermate controls (n=6)</tspan></text>
<circle cx="1063.80" cy="1399.50" r="7.80" fill="#ee0000" stroke="#000" stroke-width="2.60"/>
<text x="1093.71" y="1408.50" font-size="28.61" textLength="274.59" lengthAdjust="spacingAndGlyphs"><tspan font-style="italic">Csf1r</tspan><tspan font-style="italic" font-size="21.17" dy="-12.30">ΔFIRE/ΔFIRE</tspan><tspan dy="12.30"> (n=6)</tspan></text>
<text x="940.70" y="1036.30" font-size="59.00">i</text>
<rect x="1729.30" y="1167.70" width="47.90" height="152.10" fill="#c0c0fb" stroke="#000" stroke-width="2.60"/>
<rect x="1807.30" y="1320.30" width="47.40" height="0.50" fill="#fdc0c0" stroke="#000" stroke-width="2.60"/>
<circle cx="1752.80" cy="1102.80" r="7.90" fill="#0000c8" stroke="#000" stroke-width="2.60"/>
<circle cx="1735.50" cy="1152.80" r="7.90" fill="#0000c8" stroke="#000" stroke-width="2.60"/>
<circle cx="1752.80" cy="1151.30" r="7.90" fill="#0000c8" stroke="#000" stroke-width="2.60"/>
<circle cx="1771.00" cy="1157.30" r="7.90" fill="#0000c8" stroke="#000" stroke-width="2.60"/>
<circle cx="1744.00" cy="1216.30" r="7.90" fill="#0000c8" stroke="#000" stroke-width="2.60"/>
<circle cx="1761.90" cy="1214.20" r="7.90" fill="#0000c8" stroke="#000" stroke-width="2.60"/>
<circle cx="1832.40" cy="1295.00" r="7.90" fill="#ee0000" stroke="#000" stroke-width="2.60"/>
<circle cx="1815.10" cy="1319.80" r="7.90" fill="#ee0000" stroke="#000" stroke-width="2.60"/>
<circle cx="1823.30" cy="1317.70" r="7.90" fill="#ee0000" stroke="#000" stroke-width="2.60"/>
<circle cx="1834.00" cy="1319.80" r="7.90" fill="#ee0000" stroke="#000" stroke-width="2.60"/>
<circle cx="1841.50" cy="1319.80" r="7.90" fill="#ee0000" stroke="#000" stroke-width="2.60"/>
<circle cx="1850.00" cy="1319.80" r="7.90" fill="#ee0000" stroke="#000" stroke-width="2.60"/>
<g stroke="#000" stroke-linecap="butt">
<line x1="1752.80" y1="1148.20" x2="1752.80" y2="1183.70" stroke-width="2.60"/>
<line x1="1740.80" y1="1148.20" x2="1764.80" y2="1148.20" stroke-width="2.60"/>
<line x1="1740.80" y1="1183.70" x2="1764.80" y2="1183.70" stroke-width="2.60"/>
<path d="M1700.70 1046.20 H1884.80 V1319.80 H1700.70 Z" fill="none" stroke-width="3"/>
<line x1="1688.70" y1="1319.80" x2="1700.70" y2="1319.80" stroke-width="2.60"/>
<line x1="1688.70" y1="1228.50" x2="1700.70" y2="1228.50" stroke-width="2.60"/>
<line x1="1688.70" y1="1137.60" x2="1700.70" y2="1137.60" stroke-width="2.60"/>
<line x1="1688.70" y1="1046.20" x2="1700.70" y2="1046.20" stroke-width="2.60"/>
<path d="M1749.00 1095.90 V1083.20 H1841.50 V1095.90" fill="none" stroke-width="2.6"/>
</g>
<text transform="translate(1685.92 1330.68) scale(1.000 1)" text-anchor="end" font-size="30.40" >0</text>
<text transform="translate(1685.92 1239.38) scale(1.000 1)" text-anchor="end" font-size="30.40" >50</text>
<text transform="translate(1685.92 1148.48) scale(1.000 1)" text-anchor="end" font-size="30.40" >100</text>
<text transform="translate(1685.92 1057.08) scale(1.000 1)" text-anchor="end" font-size="30.40" >150</text>
<text x="1743.19" y="1069.60" font-size="31.39" textLength="114.51" lengthAdjust="spacingAndGlyphs"><tspan font-style="italic">p=0.002</tspan></text>
<text transform="translate(1585.82 1179.20) rotate(-90)" text-anchor="middle" font-size="30.04" textLength="206.80" lengthAdjust="spacingAndGlyphs"><tspan >CD45</tspan><tspan font-size="22.23" dy="-12.92">lo</tspan><tspan dy="12.92"> CD11b</tspan><tspan font-size="22.23" dy="-12.92">+</tspan></text>
<text transform="translate(1613.01 1178.50) rotate(-90)" text-anchor="middle" font-size="23.12" textLength="204.85" lengthAdjust="spacingAndGlyphs"><tspan >(Absolute counts/µl)</tspan></text>
<circle cx="1594.80" cy="1357.00" r="7.80" fill="#0000c8" stroke="#000" stroke-width="2.60"/>
<text x="1625.21" y="1366.20" font-size="30.84" textLength="380.87" lengthAdjust="spacingAndGlyphs"><tspan >WT littermate controls (n=6)</tspan></text>
<circle cx="1594.80" cy="1399.50" r="7.80" fill="#ee0000" stroke="#000" stroke-width="2.60"/>
<text x="1627.31" y="1411.60" font-size="30.94" textLength="296.98" lengthAdjust="spacingAndGlyphs"><tspan font-style="italic">Csf1r</tspan><tspan font-size="22.89" dy="-13.30">ΔFIRE/ΔFIRE</tspan><tspan dy="13.30"> (n=6)</tspan></text>
<text x="1522.10" y="1031.40" font-size="59.00">j</text>
<rect x="188.00" y="1609.80" width="44.40" height="92.50" fill="#c0c0fb" stroke="#000" stroke-width="2.60"/>
<rect x="261.00" y="1643.70" width="44.90" height="58.60" fill="#fdc0c0" stroke="#000" stroke-width="2.60"/>
<circle cx="210.40" cy="1451.10" r="7.90" fill="#0000c8" stroke="#000" stroke-width="2.60"/>
<circle cx="193.70" cy="1617.60" r="7.90" fill="#0000c8" stroke="#000" stroke-width="2.60"/>
<circle cx="211.00" cy="1625.20" r="7.90" fill="#0000c8" stroke="#000" stroke-width="2.60"/>
<circle cx="211.00" cy="1646.30" r="7.90" fill="#0000c8" stroke="#000" stroke-width="2.60"/>
<circle cx="227.00" cy="1648.50" r="7.90" fill="#0000c8" stroke="#000" stroke-width="2.60"/>
<circle cx="193.70" cy="1656.00" r="7.90" fill="#0000c8" stroke="#000" stroke-width="2.60"/>
<circle cx="300.20" cy="1587.30" r="7.90" fill="#ee0000" stroke="#000" stroke-width="2.60"/>
<circle cx="267.00" cy="1601.00" r="7.90" fill="#ee0000" stroke="#000" stroke-width="2.60"/>
<circle cx="283.60" cy="1637.90" r="7.90" fill="#ee0000" stroke="#000" stroke-width="2.60"/>
<circle cx="267.00" cy="1656.00" r="7.90" fill="#ee0000" stroke="#000" stroke-width="2.60"/>
<circle cx="300.20" cy="1660.90" r="7.90" fill="#ee0000" stroke="#000" stroke-width="2.60"/>
<circle cx="283.60" cy="1702.30" r="7.90" fill="#ee0000" stroke="#000" stroke-width="2.60"/>
<g stroke="#000" stroke-linecap="butt">
<line x1="210.40" y1="1575.20" x2="210.40" y2="1639.40" stroke-width="2.60"/>
<line x1="198.40" y1="1575.20" x2="222.40" y2="1575.20" stroke-width="2.60"/>
<line x1="198.40" y1="1639.40" x2="222.40" y2="1639.40" stroke-width="2.60"/>
<line x1="283.60" y1="1623.60" x2="283.60" y2="1657.00" stroke-width="2.60"/>
<line x1="271.60" y1="1623.60" x2="295.60" y2="1623.60" stroke-width="2.60"/>
<line x1="271.60" y1="1657.00" x2="295.60" y2="1657.00" stroke-width="2.60"/>
<path d="M160.40 1433.60 H333.00 V1702.30 H160.40 Z" fill="none" stroke-width="3"/>
<line x1="149.40" y1="1702.30" x2="160.40" y2="1702.30" stroke-width="2.60"/>
<line x1="149.40" y1="1648.50" x2="160.40" y2="1648.50" stroke-width="2.60"/>
<line x1="149.40" y1="1594.90" x2="160.40" y2="1594.90" stroke-width="2.60"/>
<line x1="149.40" y1="1541.00" x2="160.40" y2="1541.00" stroke-width="2.60"/>
<line x1="149.40" y1="1487.40" x2="160.40" y2="1487.40" stroke-width="2.60"/>
<line x1="149.40" y1="1433.60" x2="160.40" y2="1433.60" stroke-width="2.60"/>
</g>
<text transform="translate(147.92 1713.18) scale(1.000 1)" text-anchor="end" font-size="30.40" >0.0</text>
<text transform="translate(147.92 1659.38) scale(1.000 1)" text-anchor="end" font-size="30.40" >0.2</text>
<text transform="translate(147.92 1605.78) scale(1.000 1)" text-anchor="end" font-size="30.40" >0.4</text>
<text transform="translate(147.92 1551.88) scale(1.000 1)" text-anchor="end" font-size="30.40" >0.6</text>
<text transform="translate(147.92 1498.28) scale(1.000 1)" text-anchor="end" font-size="30.40" >0.8</text>
<text transform="translate(147.92 1444.48) scale(1.000 1)" text-anchor="end" font-size="30.40" >1.0</text>
<text transform="translate(63.59 1563.50) rotate(-90)" text-anchor="middle" font-size="29.41" textLength="291.35" lengthAdjust="spacingAndGlyphs"><tspan >CD163</tspan><tspan font-size="21.76" dy="-12.65">+</tspan><tspan dy="12.65"> in all  CD11b</tspan><tspan font-size="21.76" dy="-12.65">+</tspan></text>
<text transform="translate(89.12 1563.00) rotate(-90)" text-anchor="middle" font-size="22.78" textLength="201.82" lengthAdjust="spacingAndGlyphs"><tspan >(Absolute counts/µl)</tspan></text>
<circle cx="63.60" cy="1746.20" r="7.80" fill="#0000c8" stroke="#000" stroke-width="2.60"/>
<text x="91.01" y="1755.30" font-size="28.63" textLength="353.39" lengthAdjust="spacingAndGlyphs"><tspan >WT littermate controls (n=6)</tspan></text>
<circle cx="63.60" cy="1788.60" r="7.80" fill="#ee0000" stroke="#000" stroke-width="2.60"/>
<text x="101.71" y="1800.70" font-size="28.56" textLength="273.98" lengthAdjust="spacingAndGlyphs"><tspan font-style="italic">Csf1r</tspan><tspan font-size="21.14" dy="-12.28">ΔFIRE/ΔFIRE</tspan><tspan dy="12.28"> (n=6)</tspan></text>
<text x="1.60" y="1445.00" font-size="59.00">k</text>
<rect x="668.60" y="1582.00" width="46.50" height="124.30" fill="#c0c0fb" stroke="#000" stroke-width="2.60"/>
<rect x="744.30" y="1644.60" width="46.40" height="61.70" fill="#fdc0c0" stroke="#000" stroke-width="2.60"/>
<circle cx="691.50" cy="1483.50" r="7.90" fill="#0000c8" stroke="#000" stroke-width="2.60"/>
<circle cx="691.50" cy="1504.10" r="7.90" fill="#0000c8" stroke="#000" stroke-width="2.60"/>
<circle cx="691.50" cy="1597.30" r="7.90" fill="#0000c8" stroke="#000" stroke-width="2.60"/>
<circle cx="691.50" cy="1614.60" r="7.90" fill="#0000c8" stroke="#000" stroke-width="2.60"/>
<circle cx="708.80" cy="1634.20" r="7.90" fill="#0000c8" stroke="#000" stroke-width="2.60"/>
<circle cx="674.30" cy="1647.00" r="7.90" fill="#0000c8" stroke="#000" stroke-width="2.60"/>
<circle cx="767.80" cy="1587.30" r="7.90" fill="#ee0000" stroke="#000" stroke-width="2.60"/>
<circle cx="750.00" cy="1638.80" r="7.90" fill="#ee0000" stroke="#000" stroke-width="2.60"/>
<circle cx="784.80" cy="1641.80" r="7.90" fill="#ee0000" stroke="#000" stroke-width="2.60"/>
<circle cx="761.80" cy="1652.40" r="7.90" fill="#ee0000" stroke="#000" stroke-width="2.60"/>
<circle cx="774.80" cy="1654.00" r="7.90" fill="#ee0000" stroke="#000" stroke-width="2.60"/>
<circle cx="767.80" cy="1682.70" r="7.90" fill="#ee0000" stroke="#000" stroke-width="2.60"/>
<g stroke="#000" stroke-linecap="butt">
<line x1="691.50" y1="1552.00" x2="691.50" y2="1608.00" stroke-width="2.60"/>
<line x1="679.50" y1="1552.00" x2="703.50" y2="1552.00" stroke-width="2.60"/>
<line x1="679.50" y1="1608.00" x2="703.50" y2="1608.00" stroke-width="2.60"/>
<line x1="767.80" y1="1630.30" x2="767.80" y2="1656.00" stroke-width="2.60"/>
<line x1="755.80" y1="1630.30" x2="779.80" y2="1630.30" stroke-width="2.60"/>
<line x1="755.80" y1="1656.00" x2="779.80" y2="1656.00" stroke-width="2.60"/>
<path d="M641.00 1434.50 H818.60 V1706.30 H641.00 Z" fill="none" stroke-width="3"/>
<line x1="630.00" y1="1706.30" x2="641.00" y2="1706.30" stroke-width="2.60"/>
<line x1="630.00" y1="1638.20" x2="641.00" y2="1638.20" stroke-width="2.60"/>
<line x1="630.00" y1="1570.70" x2="641.00" y2="1570.70" stroke-width="2.60"/>
<line x1="630.00" y1="1502.60" x2="641.00" y2="1502.60" stroke-width="2.60"/>
<line x1="630.00" y1="1434.50" x2="641.00" y2="1434.50" stroke-width="2.60"/>
</g>
<text transform="translate(627.42 1717.18) scale(1.000 1)" text-anchor="end" font-size="30.40" >0.0</text>
<text transform="translate(627.42 1649.08) scale(1.000 1)" text-anchor="end" font-size="30.40" >0.5</text>
<text transform="translate(627.42 1581.58) scale(1.000 1)" text-anchor="end" font-size="30.40" >1.0</text>
<text transform="translate(627.42 1513.48) scale(1.000 1)" text-anchor="end" font-size="30.40" >1.5</text>
<text transform="translate(627.42 1445.38) scale(1.000 1)" text-anchor="end" font-size="30.40" >2.0</text>
<text transform="translate(538.59 1566.50) rotate(-90)" text-anchor="middle" font-size="29.41" textLength="291.35" lengthAdjust="spacingAndGlyphs"><tspan >CD206</tspan><tspan font-size="21.76" dy="-12.65">+</tspan><tspan dy="12.65"> in all  CD11b</tspan><tspan font-size="21.76" dy="-12.65">+</tspan></text>
<text transform="translate(564.32 1566.00) rotate(-90)" text-anchor="middle" font-size="22.78" textLength="201.82" lengthAdjust="spacingAndGlyphs"><tspan >(Absolute counts/µl)</tspan></text>
<circle cx="539.30" cy="1751.70" r="7.80" fill="#0000c8" stroke="#000" stroke-width="2.60"/>
<text x="568.26" y="1760.80" font-size="29.68" textLength="366.47" lengthAdjust="spacingAndGlyphs"><tspan >WT littermate controls (n=6)</tspan></text>
<circle cx="541.70" cy="1799.20" r="7.80" fill="#ee0000" stroke="#000" stroke-width="2.60"/>
<text x="572.17" y="1811.30" font-size="29.58" textLength="283.87" lengthAdjust="spacingAndGlyphs"><tspan font-style="italic">Csf1r</tspan><tspan font-size="21.89" dy="-12.72">ΔFIRE/ΔFIRE</tspan><tspan dy="12.72"> (n=6)</tspan></text>
<rect x="1197.30" y="1634.90" width="47.40" height="66.80" fill="#c0c0fb" stroke="#000" stroke-width="2.60"/>
<rect x="1274.60" y="1638.60" width="47.90" height="63.10" fill="#fdc0c0" stroke="#000" stroke-width="2.60"/>
<circle cx="1221.00" cy="1512.60" r="7.90" fill="#0000c8" stroke="#000" stroke-width="2.60"/>
<circle cx="1221.00" cy="1613.70" r="7.90" fill="#0000c8" stroke="#000" stroke-width="2.60"/>
<circle cx="1238.50" cy="1654.50" r="7.90" fill="#0000c8" stroke="#000" stroke-width="2.60"/>
<circle cx="1221.00" cy="1664.50" r="7.90" fill="#0000c8" stroke="#000" stroke-width="2.60"/>
<circle cx="1203.60" cy="1675.00" r="7.90" fill="#0000c8" stroke="#000" stroke-width="2.60"/>
<circle cx="1238.50" cy="1675.00" r="7.90" fill="#0000c8" stroke="#000" stroke-width="2.60"/>
<circle cx="1281.40" cy="1576.70" r="7.90" fill="#ee0000" stroke="#000" stroke-width="2.60"/>
<circle cx="1316.50" cy="1573.10" r="7.90" fill="#ee0000" stroke="#000" stroke-width="2.60"/>
<circle cx="1299.00" cy="1623.00" r="7.90" fill="#ee0000" stroke="#000" stroke-width="2.60"/>
<circle cx="1299.00" cy="1649.40" r="7.90" fill="#ee0000" stroke="#000" stroke-width="2.60"/>
<circle cx="1316.50" cy="1688.70" r="7.90" fill="#ee0000" stroke="#000" stroke-width="2.60"/>
<circle cx="1281.40" cy="1701.70" r="7.90" fill="#ee0000" stroke="#000" stroke-width="2.60"/>
<g stroke="#000" stroke-linecap="butt">
<line x1="1221.00" y1="1606.40" x2="1221.00" y2="1657.80" stroke-width="2.60"/>
<line x1="1209.00" y1="1606.40" x2="1233.00" y2="1606.40" stroke-width="2.60"/>
<line x1="1209.00" y1="1657.80" x2="1233.00" y2="1657.80" stroke-width="2.60"/>
<line x1="1299.00" y1="1613.70" x2="1299.00" y2="1657.50" stroke-width="2.60"/>
<line x1="1287.00" y1="1613.70" x2="1311.00" y2="1613.70" stroke-width="2.60"/>
<line x1="1287.00" y1="1657.50" x2="1311.00" y2="1657.50" stroke-width="2.60"/>
<path d="M1169.40 1436.90 H1350.40 V1701.70 H1169.40 Z" fill="none" stroke-width="3"/>
<line x1="1157.40" y1="1701.70" x2="1169.40" y2="1701.70" stroke-width="2.60"/>
<line x1="1157.40" y1="1635.70" x2="1169.40" y2="1635.70" stroke-width="2.60"/>
<line x1="1157.40" y1="1569.20" x2="1169.40" y2="1569.20" stroke-width="2.60"/>
<line x1="1157.40" y1="1503.20" x2="1169.40" y2="1503.20" stroke-width="2.60"/>
<line x1="1157.40" y1="1436.90" x2="1169.40" y2="1436.90" stroke-width="2.60"/>
</g>
<text transform="translate(1154.16 1712.08) scale(1.000 1)" text-anchor="end" font-size="29.00" >0.0</text>
<text transform="translate(1154.16 1646.08) scale(1.000 1)" text-anchor="end" font-size="29.00" >0.1</text>
<text transform="translate(1154.16 1579.58) scale(1.000 1)" text-anchor="end" font-size="29.00" >0.2</text>
<text transform="translate(1154.16 1513.58) scale(1.000 1)" text-anchor="end" font-size="29.00" >0.3</text>
<text transform="translate(1154.16 1447.28) scale(1.000 1)" text-anchor="end" font-size="29.00" >0.4</text>
<text transform="translate(1059.84 1565.50) rotate(-90)" text-anchor="middle" font-size="29.00" textLength="273.32" lengthAdjust="spacingAndGlyphs"><tspan >Lyve1</tspan><tspan font-size="21.46" dy="-12.47">+</tspan><tspan dy="12.47"> in all  CD11b</tspan><tspan font-size="21.46" dy="-12.47">+</tspan></text>
<text transform="translate(1091.32 1564.50) rotate(-90)" text-anchor="middle" font-size="21.99" textLength="194.76" lengthAdjust="spacingAndGlyphs"><tspan >(Absolute counts/µl)</tspan></text>
<circle cx="1065.10" cy="1745.10" r="7.80" fill="#0000c8" stroke="#000" stroke-width="2.60"/>
<text x="1095.53" y="1754.20" font-size="30.34" textLength="374.73" lengthAdjust="spacingAndGlyphs"><tspan >WT littermate controls (n=6)</tspan></text>
<circle cx="1065.10" cy="1786.00" r="7.80" fill="#ee0000" stroke="#000" stroke-width="2.60"/>
<text x="1097.03" y="1797.20" font-size="30.47" textLength="292.44" lengthAdjust="spacingAndGlyphs"><tspan font-style="italic">Csf1r</tspan><tspan font-size="22.55" dy="-13.10">ΔFIRE/ΔFIRE</tspan><tspan dy="13.10"> (n=6)</tspan></text>
<rect x="1732.30" y="1640.10" width="46.40" height="57.70" fill="#c0c0fb" stroke="#000" stroke-width="2.60"/>
<rect x="1809.50" y="1670.30" width="46.70" height="27.50" fill="#fdc0c0" stroke="#000" stroke-width="2.60"/>
<circle cx="1755.20" cy="1491.40" r="7.90" fill="#0000c8" stroke="#000" stroke-width="2.60"/>
<circle cx="1755.20" cy="1563.10" r="7.90" fill="#0000c8" stroke="#000" stroke-width="2.60"/>
<circle cx="1750.70" cy="1686.30" r="7.90" fill="#0000c8" stroke="#000" stroke-width="2.60"/>
<circle cx="1773.40" cy="1691.10" r="7.90" fill="#0000c8" stroke="#000" stroke-width="2.60"/>
<circle cx="1738.00" cy="1696.30" r="7.90" fill="#0000c8" stroke="#000" stroke-width="2.60"/>
<circle cx="1761.90" cy="1696.30" r="7.90" fill="#0000c8" stroke="#000" stroke-width="2.60"/>
<circle cx="1832.40" cy="1529.80" r="7.90" fill="#ee0000" stroke="#000" stroke-width="2.60"/>
<circle cx="1824.00" cy="1691.10" r="7.90" fill="#ee0000" stroke="#000" stroke-width="2.60"/>
<circle cx="1841.50" cy="1694.80" r="7.90" fill="#ee0000" stroke="#000" stroke-width="2.60"/>
<circle cx="1815.10" cy="1696.30" r="7.90" fill="#ee0000" stroke="#000" stroke-width="2.60"/>
<circle cx="1833.30" cy="1697.20" r="7.90" fill="#ee0000" stroke="#000" stroke-width="2.60"/>
<circle cx="1850.50" cy="1697.80" r="7.90" fill="#ee0000" stroke="#000" stroke-width="2.60"/>
<g stroke="#000" stroke-linecap="butt">
<line x1="1755.20" y1="1601.80" x2="1755.20" y2="1673.60" stroke-width="2.60"/>
<line x1="1743.20" y1="1601.80" x2="1767.20" y2="1601.80" stroke-width="2.60"/>
<line x1="1743.20" y1="1673.60" x2="1767.20" y2="1673.60" stroke-width="2.60"/>
<line x1="1832.40" y1="1640.30" x2="1832.40" y2="1697.00" stroke-width="2.60"/>
<line x1="1820.40" y1="1640.30" x2="1844.40" y2="1640.30" stroke-width="2.60"/>
<line x1="1820.40" y1="1697.00" x2="1844.40" y2="1697.00" stroke-width="2.60"/>
<path d="M1704.40 1438.10 H1884.50 V1697.80 H1704.40 Z" fill="none" stroke-width="3"/>
<line x1="1692.80" y1="1697.80" x2="1704.40" y2="1697.80" stroke-width="2.60"/>
<line x1="1692.80" y1="1645.70" x2="1704.40" y2="1645.70" stroke-width="2.60"/>
<line x1="1692.80" y1="1594.00" x2="1704.40" y2="1594.00" stroke-width="2.60"/>
<line x1="1692.80" y1="1542.00" x2="1704.40" y2="1542.00" stroke-width="2.60"/>
<line x1="1692.80" y1="1490.50" x2="1704.40" y2="1490.50" stroke-width="2.60"/>
<line x1="1692.80" y1="1438.10" x2="1704.40" y2="1438.10" stroke-width="2.60"/>
</g>
<text transform="translate(1689.26 1708.18) scale(1.000 1)" text-anchor="end" font-size="29.00" >0</text>
<text transform="translate(1689.26 1656.08) scale(1.000 1)" text-anchor="end" font-size="29.00" >20</text>
<text transform="translate(1689.26 1604.38) scale(1.000 1)" text-anchor="end" font-size="29.00" >40</text>
<text transform="translate(1689.26 1552.38) scale(1.000 1)" text-anchor="end" font-size="29.00" >60</text>
<text transform="translate(1689.26 1500.88) scale(1.000 1)" text-anchor="end" font-size="29.00" >80</text>
<text transform="translate(1689.26 1448.48) scale(1.000 1)" text-anchor="end" font-size="29.00" >100</text>
<text transform="translate(1550.45 1563.00) rotate(-90)" text-anchor="middle" font-size="28.20" textLength="162.26" lengthAdjust="spacingAndGlyphs"><tspan >CD19</tspan><tspan font-size="20.87" dy="-12.13">+</tspan><tspan dy="12.13">B220</tspan><tspan font-size="20.87" dy="-12.13">+</tspan></text>
<text transform="translate(1592.43 1563.00) rotate(-90)" text-anchor="middle" font-size="28.99" textLength="220.32" lengthAdjust="spacingAndGlyphs"><tspan >in all CD45</tspan><tspan font-size="21.45" dy="-12.46">+</tspan><tspan dy="12.46"> cells</tspan></text>
<text transform="translate(1626.15 1564.00) rotate(-90)" text-anchor="middle" font-size="29.80" textLength="46.38" lengthAdjust="spacingAndGlyphs"><tspan >(%)</tspan></text>
<circle cx="1600.90" cy="1740.20" r="7.80" fill="#0000c8" stroke="#000" stroke-width="2.60"/>
<text x="1630.34" y="1749.90" font-size="30.18" textLength="372.71" lengthAdjust="spacingAndGlyphs"><tspan >WT littermate controls (n=6)</tspan></text>
<circle cx="1601.50" cy="1779.50" r="7.80" fill="#ee0000" stroke="#000" stroke-width="2.60"/>
<text x="1632.64" y="1791.60" font-size="30.23" textLength="290.12" lengthAdjust="spacingAndGlyphs"><tspan font-style="italic">Csf1r</tspan><tspan font-size="22.37" dy="-13.00">ΔFIRE/ΔFIRE</tspan><tspan dy="13.00"> (n=6)</tspan></text>
<text x="1524.40" y="1457.20" font-size="59.00">l</text>
<rect x="175.30" y="2161.80" width="54.90" height="42.00" fill="#c0c0fb" stroke="#000" stroke-width="2.60"/>
<rect x="264.00" y="2064.90" width="54.90" height="138.90" fill="#fdc0c0" stroke="#000" stroke-width="2.60"/>
<ellipse cx="226.00" cy="2133.30" rx="7.35" ry="7.90" fill="#0000ee" stroke="#000" stroke-width="2.60"/>
<ellipse cx="181.00" cy="2145.40" rx="7.35" ry="7.90" fill="#0000ee" stroke="#000" stroke-width="2.60"/>
<ellipse cx="202.80" cy="2143.20" rx="7.35" ry="7.90" fill="#0000ee" stroke="#000" stroke-width="2.60"/>
<ellipse cx="226.00" cy="2153.50" rx="7.35" ry="7.90" fill="#0000ee" stroke="#000" stroke-width="2.60"/>
<ellipse cx="181.00" cy="2163.50" rx="7.35" ry="7.90" fill="#0000ee" stroke="#000" stroke-width="2.60"/>
<ellipse cx="202.80" cy="2165.60" rx="7.35" ry="7.90" fill="#0000ee" stroke="#000" stroke-width="2.60"/>
<ellipse cx="225.50" cy="2178.70" rx="7.35" ry="7.90" fill="#0000ee" stroke="#000" stroke-width="2.60"/>
<ellipse cx="181.00" cy="2189.20" rx="7.35" ry="7.90" fill="#0000ee" stroke="#000" stroke-width="2.60"/>
<ellipse cx="277.50" cy="2003.10" rx="7.35" ry="7.90" fill="#ee0000" stroke="#000" stroke-width="2.60"/>
<ellipse cx="306.30" cy="2003.10" rx="7.35" ry="7.90" fill="#ee0000" stroke="#000" stroke-width="2.60"/>
<ellipse cx="306.30" cy="2047.60" rx="7.35" ry="7.90" fill="#ee0000" stroke="#000" stroke-width="2.60"/>
<ellipse cx="277.50" cy="2063.60" rx="7.35" ry="7.90" fill="#ee0000" stroke="#000" stroke-width="2.60"/>
<ellipse cx="306.30" cy="2071.80" rx="7.35" ry="7.90" fill="#ee0000" stroke="#000" stroke-width="2.60"/>
<ellipse cx="277.50" cy="2087.90" rx="7.35" ry="7.90" fill="#ee0000" stroke="#000" stroke-width="2.60"/>
<ellipse cx="306.30" cy="2088.80" rx="7.35" ry="7.90" fill="#ee0000" stroke="#000" stroke-width="2.60"/>
<ellipse cx="292.00" cy="2133.30" rx="7.35" ry="7.90" fill="#ee0000" stroke="#000" stroke-width="2.60"/>
<g stroke="#000" stroke-linecap="butt">
<line x1="202.80" y1="2152.30" x2="202.80" y2="2165.60" stroke-width="2.60"/>
<line x1="188.30" y1="2152.30" x2="217.30" y2="2152.30" stroke-width="2.60"/>
<line x1="188.30" y1="2165.60" x2="217.30" y2="2165.60" stroke-width="2.60"/>
<line x1="292.00" y1="2046.40" x2="292.00" y2="2078.80" stroke-width="2.60"/>
<line x1="277.50" y1="2046.40" x2="306.50" y2="2046.40" stroke-width="2.60"/>
<line x1="277.50" y1="2078.80" x2="306.50" y2="2078.80" stroke-width="2.60"/>
<path d="M158.00 1932.00 H336.90 V2203.80 H158.00 Z" fill="none" stroke-width="3"/>
<line x1="152.00" y1="2203.80" x2="158.00" y2="2203.80" stroke-width="2.60"/>
<line x1="152.00" y1="2113.00" x2="158.00" y2="2113.00" stroke-width="2.60"/>
<line x1="152.00" y1="2022.80" x2="158.00" y2="2022.80" stroke-width="2.60"/>
<line x1="152.00" y1="1932.00" x2="158.00" y2="1932.00" stroke-width="2.60"/>
<path d="M207.30 1988.00 V1975.30 H294.20 V1988.00" fill="none" stroke-width="2.6"/>
</g>
<text transform="translate(148.97 2214.72) scale(0.875 1)" text-anchor="end" font-size="30.50" >0</text>
<text transform="translate(148.97 2123.92) scale(0.875 1)" text-anchor="end" font-size="30.50" >10</text>
<text transform="translate(148.97 2033.72) scale(0.875 1)" text-anchor="end" font-size="30.50" >20</text>
<text transform="translate(148.97 1942.92) scale(0.875 1)" text-anchor="end" font-size="30.50" >30</text>
<text x="192.38" y="1963.80" font-size="29.30" textLength="114.34" lengthAdjust="spacingAndGlyphs"><tspan font-style="italic">p=0.0001</tspan></text>
<text x="165.18" y="1880.50" font-size="29.30" textLength="162.74" lengthAdjust="spacingAndGlyphs"><tspan >Elevated plus</tspan></text>
<text x="188.68" y="1912.30" font-size="29.30" textLength="117.34" lengthAdjust="spacingAndGlyphs"><tspan >maze test</tspan></text>
<text transform="translate(72.73 2081.00) rotate(-90)" text-anchor="middle" font-size="29.81" textLength="149.19" lengthAdjust="spacingAndGlyphs"><tspan >Entries into</tspan></text>
<text transform="translate(103.06 2065.20) rotate(-90)" text-anchor="middle" font-size="29.84" textLength="180.79" lengthAdjust="spacingAndGlyphs"><tspan >open arm (%)</tspan></text>
<circle cx="65.00" cy="2231.60" r="7.80" fill="#0000ee" stroke="#000" stroke-width="2.60"/>
<text x="93.08" y="2240.70" font-size="29.30" textLength="333.14" lengthAdjust="spacingAndGlyphs"><tspan >WT littermate controls (n=8)</tspan></text>
<circle cx="65.00" cy="2278.50" r="7.80" fill="#ee0000" stroke="#000" stroke-width="2.60"/>
<text x="91.88" y="2290.60" font-size="29.30" textLength="292.94" lengthAdjust="spacingAndGlyphs"><tspan font-style="italic">HexB</tspan><tspan font-style="italic" font-size="21.68" dy="-12.60">CreER</tspan><tspan font-style="italic" dy="12.60">:Csf1r</tspan><tspan font-style="italic" font-size="21.68" dy="-12.60">fl/fl</tspan><tspan dy="12.60"> (n=8)</tspan></text>
<text x="14.40" y="1907.80" font-size="59.00">m</text>
<rect x="667.10" y="2114.00" width="51.00" height="91.30" fill="#c0c0fb" stroke="#000" stroke-width="2.60"/>
<rect x="750.30" y="2046.20" width="51.40" height="159.10" fill="#fdc0c0" stroke="#000" stroke-width="2.60"/>
<ellipse cx="671.90" cy="2044.60" rx="6.98" ry="7.90" fill="#0000c8" stroke="#000" stroke-width="2.60"/>
<ellipse cx="692.40" cy="2057.60" rx="6.98" ry="7.90" fill="#0000c8" stroke="#000" stroke-width="2.60"/>
<ellipse cx="692.40" cy="2082.70" rx="6.98" ry="7.90" fill="#0000c8" stroke="#000" stroke-width="2.60"/>
<ellipse cx="682.50" cy="2106.00" rx="6.98" ry="7.90" fill="#0000c8" stroke="#000" stroke-width="2.60"/>
<ellipse cx="703.00" cy="2119.60" rx="6.98" ry="7.90" fill="#0000c8" stroke="#000" stroke-width="2.60"/>
<ellipse cx="692.40" cy="2155.40" rx="6.98" ry="7.90" fill="#0000c8" stroke="#000" stroke-width="2.60"/>
<ellipse cx="712.70" cy="2156.00" rx="6.98" ry="7.90" fill="#0000c8" stroke="#000" stroke-width="2.60"/>
<ellipse cx="671.90" cy="2168.00" rx="6.98" ry="7.90" fill="#0000c8" stroke="#000" stroke-width="2.60"/>
<ellipse cx="755.00" cy="2007.60" rx="6.98" ry="7.90" fill="#ee0000" stroke="#000" stroke-width="2.60"/>
<ellipse cx="768.70" cy="2007.60" rx="6.98" ry="7.90" fill="#ee0000" stroke="#000" stroke-width="2.60"/>
<ellipse cx="783.20" cy="2019.80" rx="6.98" ry="7.90" fill="#ee0000" stroke="#000" stroke-width="2.60"/>
<ellipse cx="755.00" cy="2045.50" rx="6.98" ry="7.90" fill="#ee0000" stroke="#000" stroke-width="2.60"/>
<ellipse cx="783.20" cy="2045.50" rx="6.98" ry="7.90" fill="#ee0000" stroke="#000" stroke-width="2.60"/>
<ellipse cx="768.70" cy="2057.60" rx="6.98" ry="7.90" fill="#ee0000" stroke="#000" stroke-width="2.60"/>
<ellipse cx="796.00" cy="2057.60" rx="6.98" ry="7.90" fill="#ee0000" stroke="#000" stroke-width="2.60"/>
<ellipse cx="775.70" cy="2106.90" rx="6.98" ry="7.90" fill="#ee0000" stroke="#000" stroke-width="2.60"/>
<g stroke="#000" stroke-linecap="butt">
<line x1="692.40" y1="2095.40" x2="692.40" y2="2128.00" stroke-width="2.60"/>
<line x1="677.90" y1="2095.40" x2="706.90" y2="2095.40" stroke-width="2.60"/>
<line x1="677.90" y1="2128.00" x2="706.90" y2="2128.00" stroke-width="2.60"/>
<line x1="775.70" y1="2031.90" x2="775.70" y2="2054.00" stroke-width="2.60"/>
<line x1="761.20" y1="2031.90" x2="790.20" y2="2031.90" stroke-width="2.60"/>
<line x1="761.20" y1="2054.00" x2="790.20" y2="2054.00" stroke-width="2.60"/>
<path d="M650.00 1934.00 H818.00 V2205.30 H650.00 Z" fill="none" stroke-width="3"/>
<line x1="643.50" y1="2205.30" x2="650.00" y2="2205.30" stroke-width="2.60"/>
<line x1="643.50" y1="2081.80" x2="650.00" y2="2081.80" stroke-width="2.60"/>
<line x1="643.50" y1="1958.60" x2="650.00" y2="1958.60" stroke-width="2.60"/>
<path d="M681.90 1994.60 V1982.50 H762.70 V1994.60" fill="none" stroke-width="2.6"/>
</g>
<text transform="translate(640.62 2216.22) scale(0.840 1)" text-anchor="end" font-size="30.50" >0</text>
<text transform="translate(640.62 2092.72) scale(0.840 1)" text-anchor="end" font-size="30.50" >50</text>
<text transform="translate(640.62 1969.52) scale(0.840 1)" text-anchor="end" font-size="30.50" >100</text>
<text x="672.98" y="1971.30" font-size="29.30" textLength="98.24" lengthAdjust="spacingAndGlyphs"><tspan font-style="italic">p=0.004</tspan></text>
<text x="661.48" y="1882.00" font-size="29.30" textLength="147.04" lengthAdjust="spacingAndGlyphs"><tspan >Novel object</tspan></text>
<text x="643.88" y="1915.30" font-size="29.30" textLength="181.14" lengthAdjust="spacingAndGlyphs"><tspan >recognition test</tspan></text>
<text transform="translate(563.13 2068.80) rotate(-90)" text-anchor="middle" font-size="30.12" textLength="216.01" lengthAdjust="spacingAndGlyphs"><tspan >Exploration time</tspan></text>
<text transform="translate(594.75 2069.00) rotate(-90)" text-anchor="middle" font-size="29.80" textLength="46.38" lengthAdjust="spacingAndGlyphs"><tspan >(%)</tspan></text>
<circle cx="556.90" cy="2238.30" r="7.80" fill="#0000c8" stroke="#000" stroke-width="2.60"/>
<text x="583.38" y="2247.40" font-size="29.30" textLength="328.64" lengthAdjust="spacingAndGlyphs"><tspan >WT littermate controls (n=8)</tspan></text>
<circle cx="556.90" cy="2286.10" r="7.80" fill="#ee0000" stroke="#000" stroke-width="2.60"/>
<text x="584.28" y="2298.20" font-size="29.30" textLength="288.34" lengthAdjust="spacingAndGlyphs"><tspan font-style="italic">HexB</tspan><tspan font-style="italic" font-size="21.68" dy="-12.60">CreER</tspan><tspan font-style="italic" dy="12.60">:Csf1r</tspan><tspan font-style="italic" font-size="21.68" dy="-12.60">fl/fl</tspan><tspan dy="12.60"> (n=8)</tspan></text>
<text x="471.20" y="1926.00" font-size="59.00">n</text>
<rect x="1188.00" y="2018.00" width="55.70" height="184.00" fill="#c0c0fb" stroke="#000" stroke-width="2.60"/>
<rect x="1279.30" y="2021.70" width="55.90" height="180.30" fill="#fdc0c0" stroke="#000" stroke-width="2.60"/>
<circle cx="1193.60" cy="1988.60" r="7.90" fill="#0000ee" stroke="#000" stroke-width="2.60"/>
<circle cx="1208.80" cy="1976.80" r="7.90" fill="#0000ee" stroke="#000" stroke-width="2.60"/>
<circle cx="1223.90" cy="1985.90" r="7.90" fill="#0000ee" stroke="#000" stroke-width="2.60"/>
<circle cx="1239.00" cy="1979.80" r="7.90" fill="#0000ee" stroke="#000" stroke-width="2.60"/>
<circle cx="1208.80" cy="2042.50" r="7.90" fill="#0000ee" stroke="#000" stroke-width="2.60"/>
<circle cx="1239.00" cy="2044.00" r="7.90" fill="#0000ee" stroke="#000" stroke-width="2.60"/>
<circle cx="1223.90" cy="2050.60" r="7.90" fill="#0000ee" stroke="#000" stroke-width="2.60"/>
<circle cx="1193.60" cy="2057.60" r="7.90" fill="#0000ee" stroke="#000" stroke-width="2.60"/>
<circle cx="1307.00" cy="1951.70" r="7.90" fill="#ee0000" stroke="#000" stroke-width="2.60"/>
<circle cx="1299.60" cy="1993.10" r="7.90" fill="#ee0000" stroke="#000" stroke-width="2.60"/>
<circle cx="1315.30" cy="2001.60" r="7.90" fill="#ee0000" stroke="#000" stroke-width="2.60"/>
<circle cx="1299.60" cy="2016.10" r="7.90" fill="#ee0000" stroke="#000" stroke-width="2.60"/>
<circle cx="1299.60" cy="2043.40" r="7.90" fill="#ee0000" stroke="#000" stroke-width="2.60"/>
<circle cx="1285.00" cy="2050.60" r="7.90" fill="#ee0000" stroke="#000" stroke-width="2.60"/>
<circle cx="1315.30" cy="2050.00" r="7.90" fill="#ee0000" stroke="#000" stroke-width="2.60"/>
<circle cx="1330.40" cy="2047.60" r="7.90" fill="#ee0000" stroke="#000" stroke-width="2.60"/>
<g stroke="#000" stroke-linecap="butt">
<line x1="1216.00" y1="2003.00" x2="1216.00" y2="2028.20" stroke-width="2.60"/>
<line x1="1201.50" y1="2003.00" x2="1230.50" y2="2003.00" stroke-width="2.60"/>
<line x1="1201.50" y1="2028.20" x2="1230.50" y2="2028.20" stroke-width="2.60"/>
<line x1="1307.00" y1="2006.00" x2="1307.00" y2="2031.30" stroke-width="2.60"/>
<line x1="1292.50" y1="2006.00" x2="1321.50" y2="2006.00" stroke-width="2.60"/>
<line x1="1292.50" y1="2031.30" x2="1321.50" y2="2031.30" stroke-width="2.60"/>
<path d="M1171.50 1932.60 H1353.00 V2202.00 H1171.50 Z" fill="none" stroke-width="3"/>
<line x1="1163.50" y1="2202.00" x2="1171.50" y2="2202.00" stroke-width="2.60"/>
<line x1="1163.50" y1="2112.00" x2="1171.50" y2="2112.00" stroke-width="2.60"/>
<line x1="1163.50" y1="2022.20" x2="1171.50" y2="2022.20" stroke-width="2.60"/>
<line x1="1163.50" y1="1932.60" x2="1171.50" y2="1932.60" stroke-width="2.60"/>
</g>
<text transform="translate(1160.82 2212.88) scale(1.000 1)" text-anchor="end" font-size="30.40" >0</text>
<text transform="translate(1160.82 2122.88) scale(1.000 1)" text-anchor="end" font-size="30.40" >20</text>
<text transform="translate(1160.82 2033.08) scale(1.000 1)" text-anchor="end" font-size="30.40" >40</text>
<text transform="translate(1160.82 1943.48) scale(1.000 1)" text-anchor="end" font-size="30.40" >60</text>
<text x="1177.71" y="1920.00" font-size="28.69" textLength="165.80" lengthAdjust="spacingAndGlyphs"><tspan >Grip strength</tspan></text>
<text transform="translate(1073.35 2044.00) rotate(-90)" text-anchor="middle" font-size="29.80" textLength="326.38" lengthAdjust="spacingAndGlyphs"><tspan >Grip strength normalised</tspan></text>
<text transform="translate(1106.73 2054.55) rotate(-90)" text-anchor="middle" font-size="30.12" textLength="244.51" lengthAdjust="spacingAndGlyphs"><tspan >to body weight (N)</tspan></text>
<circle cx="1059.00" cy="2235.30" r="7.80" fill="#0000ee" stroke="#000" stroke-width="2.60"/>
<text x="1087.01" y="2243.70" font-size="28.68" textLength="353.99" lengthAdjust="spacingAndGlyphs"><tspan >WT littermate controls (n=8)</tspan></text>
<circle cx="1058.00" cy="2277.60" r="7.80" fill="#ee0000" stroke="#000" stroke-width="2.60"/>
<text x="1087.71" y="2289.10" font-size="28.56" textLength="311.78" lengthAdjust="spacingAndGlyphs"><tspan font-style="italic">HexB</tspan><tspan font-style="italic" font-size="21.13" dy="-12.28">CreER</tspan><tspan font-style="italic" dy="12.28">:Csf1r</tspan><tspan font-style="italic" font-size="21.13" dy="-12.28">fl/fl</tspan><tspan dy="12.28"> (n=8)</tspan></text>
<text x="948.20" y="1925.40" font-size="59.00">o</text>
<rect x="1747.30" y="2033.20" width="46.40" height="172.10" fill="#c0c0fb" stroke="#000" stroke-width="2.60"/>
<rect x="1824.00" y="2115.50" width="47.00" height="89.80" fill="#fdc0c0" stroke="#000" stroke-width="2.60"/>
<circle cx="1770.30" cy="1983.40" r="7.90" fill="#0000c8" stroke="#000" stroke-width="2.60"/>
<circle cx="1770.30" cy="2001.00" r="7.90" fill="#0000c8" stroke="#000" stroke-width="2.60"/>
<circle cx="1770.30" cy="2051.00" r="7.90" fill="#0000c8" stroke="#000" stroke-width="2.60"/>
<circle cx="1788.50" cy="2056.00" r="7.90" fill="#0000c8" stroke="#000" stroke-width="2.60"/>
<circle cx="1753.00" cy="2064.60" r="7.90" fill="#0000c8" stroke="#000" stroke-width="2.60"/>
<circle cx="1830.00" cy="2088.80" r="7.90" fill="#ee0000" stroke="#000" stroke-width="2.60"/>
<circle cx="1865.00" cy="2097.80" r="7.90" fill="#ee0000" stroke="#000" stroke-width="2.60"/>
<circle cx="1830.00" cy="2113.60" r="7.90" fill="#ee0000" stroke="#000" stroke-width="2.60"/>
<circle cx="1865.00" cy="2121.80" r="7.90" fill="#ee0000" stroke="#000" stroke-width="2.60"/>
<circle cx="1847.50" cy="2144.50" r="7.90" fill="#ee0000" stroke="#000" stroke-width="2.60"/>
<g stroke="#000" stroke-linecap="butt">
<line x1="1771.00" y1="2014.30" x2="1771.00" y2="2046.40" stroke-width="2.60"/>
<line x1="1759.00" y1="2014.30" x2="1783.00" y2="2014.30" stroke-width="2.60"/>
<line x1="1759.00" y1="2046.40" x2="1783.00" y2="2046.40" stroke-width="2.60"/>
<line x1="1847.50" y1="2105.40" x2="1847.50" y2="2122.70" stroke-width="2.60"/>
<line x1="1835.50" y1="2105.40" x2="1859.50" y2="2105.40" stroke-width="2.60"/>
<line x1="1835.50" y1="2122.70" x2="1859.50" y2="2122.70" stroke-width="2.60"/>
<path d="M1718.90 1921.40 H1899.00 V2205.30 H1718.90 Z" fill="none" stroke-width="3"/>
<line x1="1708.20" y1="2205.30" x2="1718.90" y2="2205.30" stroke-width="2.60"/>
<line x1="1708.20" y1="2116.60" x2="1718.90" y2="2116.60" stroke-width="2.60"/>
<line x1="1708.20" y1="2028.20" x2="1718.90" y2="2028.20" stroke-width="2.60"/>
<line x1="1708.20" y1="1939.50" x2="1718.90" y2="1939.50" stroke-width="2.60"/>
<path d="M1768.80 1964.40 V1952.30 H1837.00 V1964.40" fill="none" stroke-width="2.6"/>
</g>
<text transform="translate(1705.41 2216.11) scale(1.000 1)" text-anchor="end" font-size="30.20" >0</text>
<text transform="translate(1705.41 2127.41) scale(1.000 1)" text-anchor="end" font-size="30.20" >100</text>
<text transform="translate(1705.41 2039.01) scale(1.000 1)" text-anchor="end" font-size="30.20" >200</text>
<text transform="translate(1705.41 1950.31) scale(1.000 1)" text-anchor="end" font-size="30.20" >300</text>
<text x="1753.82" y="1945.00" font-size="30.57" textLength="111.45" lengthAdjust="spacingAndGlyphs"><tspan font-style="italic">p=0.002</tspan></text>
<text transform="translate(1570.86 2059.10) rotate(-90)" text-anchor="middle" font-size="30.16" textLength="199.21" lengthAdjust="spacingAndGlyphs"><tspan >CD11b</tspan><tspan font-size="22.32" dy="-12.97">+</tspan><tspan dy="12.97">CD45</tspan><tspan font-size="22.32" dy="-12.97">lo</tspan></text>
<text transform="translate(1609.13 2059.00) rotate(-90)" text-anchor="middle" font-size="29.81" textLength="162.38" lengthAdjust="spacingAndGlyphs"><tspan >cells in CNS</tspan></text>
<text transform="translate(1640.35 2056.85) rotate(-90)" text-anchor="middle" font-size="29.81" textLength="264.08" lengthAdjust="spacingAndGlyphs"><tspan >(Absolute counts/µl)</tspan></text>
<circle cx="1561.50" cy="2236.20" r="7.80" fill="#0000c8" stroke="#000" stroke-width="2.60"/>
<text x="1591.96" y="2245.20" font-size="29.85" textLength="368.59" lengthAdjust="spacingAndGlyphs"><tspan >WT littermate controls (n=5)</tspan></text>
<circle cx="1561.50" cy="2271.90" r="7.80" fill="#ee0000" stroke="#000" stroke-width="2.60"/>
<text x="1592.85" y="2283.00" font-size="29.93" textLength="335.19" lengthAdjust="spacingAndGlyphs"><tspan font-style="italic">HexB</tspan><tspan font-style="italic" font-size="22.15" dy="-12.87">CreER</tspan><tspan font-style="italic" dy="12.87">: Csf1r</tspan><tspan font-style="italic" font-size="22.15" dy="-12.87">fl/fl</tspan><tspan dy="12.87"> (n=5)</tspan></text>
<text x="1506.20" y="1919.70" font-size="59.00">p</text>
<rect x="213.20" y="2528.70" width="44.30" height="79.80" fill="#c0c0fb" stroke="#000" stroke-width="2.60"/>
<rect x="286.70" y="2559.90" width="45.00" height="48.60" fill="#fdc0c0" stroke="#000" stroke-width="2.60"/>
<circle cx="235.20" cy="2402.70" r="7.90" fill="#0000c8" stroke="#000" stroke-width="2.60"/>
<circle cx="251.20" cy="2542.00" r="7.90" fill="#0000c8" stroke="#000" stroke-width="2.60"/>
<circle cx="218.50" cy="2553.50" r="7.90" fill="#0000c8" stroke="#000" stroke-width="2.60"/>
<circle cx="251.20" cy="2558.60" r="7.90" fill="#0000c8" stroke="#000" stroke-width="2.60"/>
<circle cx="235.20" cy="2575.20" r="7.90" fill="#0000c8" stroke="#000" stroke-width="2.60"/>
<circle cx="308.70" cy="2509.60" r="7.90" fill="#ee0000" stroke="#000" stroke-width="2.60"/>
<circle cx="326.00" cy="2558.00" r="7.90" fill="#ee0000" stroke="#000" stroke-width="2.60"/>
<circle cx="292.00" cy="2563.10" r="7.90" fill="#ee0000" stroke="#000" stroke-width="2.60"/>
<circle cx="326.00" cy="2575.20" r="7.90" fill="#ee0000" stroke="#000" stroke-width="2.60"/>
<circle cx="292.00" cy="2584.30" r="7.90" fill="#ee0000" stroke="#000" stroke-width="2.60"/>
<g stroke="#000" stroke-linecap="butt">
<line x1="235.20" y1="2495.60" x2="235.20" y2="2558.00" stroke-width="2.60"/>
<line x1="223.20" y1="2495.60" x2="247.20" y2="2495.60" stroke-width="2.60"/>
<line x1="223.20" y1="2558.00" x2="247.20" y2="2558.00" stroke-width="2.60"/>
<line x1="308.70" y1="2545.00" x2="308.70" y2="2571.30" stroke-width="2.60"/>
<line x1="296.70" y1="2545.00" x2="320.70" y2="2545.00" stroke-width="2.60"/>
<line x1="296.70" y1="2571.30" x2="320.70" y2="2571.30" stroke-width="2.60"/>
<path d="M186.10 2342.20 H359.30 V2608.50 H186.10 Z" fill="none" stroke-width="3"/>
<line x1="174.80" y1="2608.50" x2="186.10" y2="2608.50" stroke-width="2.60"/>
<line x1="174.80" y1="2519.90" x2="186.10" y2="2519.90" stroke-width="2.60"/>
<line x1="174.80" y1="2430.90" x2="186.10" y2="2430.90" stroke-width="2.60"/>
<line x1="174.80" y1="2342.20" x2="186.10" y2="2342.20" stroke-width="2.60"/>
</g>
<text transform="translate(173.26 2618.88) scale(1.000 1)" text-anchor="end" font-size="29.00" >0.0</text>
<text transform="translate(173.26 2530.28) scale(1.000 1)" text-anchor="end" font-size="29.00" >0.5</text>
<text transform="translate(173.26 2441.28) scale(1.000 1)" text-anchor="end" font-size="29.00" >1.0</text>
<text transform="translate(173.26 2352.58) scale(1.000 1)" text-anchor="end" font-size="29.00" >1.5</text>
<text transform="translate(36.13 2455.50) rotate(-90)" text-anchor="middle" font-size="28.98" textLength="211.32" lengthAdjust="spacingAndGlyphs"><tspan >CD163</tspan><tspan font-size="21.44" dy="-12.46">+</tspan><tspan dy="12.46"> CD11b</tspan><tspan font-size="21.44" dy="-12.46">+</tspan></text>
<text transform="translate(72.16 2460.30) rotate(-90)" text-anchor="middle" font-size="28.23" textLength="153.66" lengthAdjust="spacingAndGlyphs"><tspan >cells in CNS</tspan></text>
<text transform="translate(102.02 2454.30) rotate(-90)" text-anchor="middle" font-size="29.32" textLength="259.75" lengthAdjust="spacingAndGlyphs"><tspan >(Absolute counts/µl)</tspan></text>
<circle cx="23.60" cy="2639.70" r="7.80" fill="#0000c8" stroke="#000" stroke-width="2.60"/>
<text x="52.61" y="2648.00" font-size="28.60" textLength="338.79" lengthAdjust="spacingAndGlyphs"><tspan >WT littermate control (n=5)</tspan></text>
<circle cx="23.60" cy="2674.50" r="7.80" fill="#ee0000" stroke="#000" stroke-width="2.60"/>
<text x="52.60" y="2685.70" font-size="28.78" textLength="322.20" lengthAdjust="spacingAndGlyphs"><tspan font-style="italic">HexB</tspan><tspan font-style="italic" font-size="21.30" dy="-12.38">CreER</tspan><tspan font-style="italic" dy="12.38">: Csf1r</tspan><tspan font-style="italic" font-size="21.30" dy="-12.38">fl/fl</tspan><tspan dy="12.38"> (n=5)</tspan></text>
<text x="-2.30" y="2330.00" font-size="59.00">q</text>
<rect x="695.30" y="2548.70" width="43.10" height="69.50" fill="#c0c0fb" stroke="#000" stroke-width="2.60"/>
<rect x="767.30" y="2470.60" width="43.40" height="147.60" fill="#fdc0c0" stroke="#000" stroke-width="2.60"/>
<circle cx="717.00" cy="2452.00" r="7.90" fill="#0000c8" stroke="#000" stroke-width="2.60"/>
<circle cx="733.30" cy="2543.50" r="7.90" fill="#0000c8" stroke="#000" stroke-width="2.60"/>
<circle cx="700.30" cy="2553.20" r="7.90" fill="#0000c8" stroke="#000" stroke-width="2.60"/>
<circle cx="701.00" cy="2592.80" r="7.90" fill="#0000c8" stroke="#000" stroke-width="2.60"/>
<circle cx="732.70" cy="2588.90" r="7.90" fill="#0000c8" stroke="#000" stroke-width="2.60"/>
<circle cx="788.70" cy="2365.80" r="7.90" fill="#ee0000" stroke="#000" stroke-width="2.60"/>
<circle cx="788.70" cy="2434.50" r="7.90" fill="#ee0000" stroke="#000" stroke-width="2.60"/>
<circle cx="788.70" cy="2468.70" r="7.90" fill="#ee0000" stroke="#000" stroke-width="2.60"/>
<circle cx="788.70" cy="2509.60" r="7.90" fill="#ee0000" stroke="#000" stroke-width="2.60"/>
<circle cx="788.70" cy="2564.70" r="7.90" fill="#ee0000" stroke="#000" stroke-width="2.60"/>
<g stroke="#000" stroke-linecap="butt">
<line x1="717.00" y1="2520.80" x2="717.00" y2="2571.30" stroke-width="2.60"/>
<line x1="705.00" y1="2520.80" x2="729.00" y2="2520.80" stroke-width="2.60"/>
<line x1="705.00" y1="2571.30" x2="729.00" y2="2571.30" stroke-width="2.60"/>
<line x1="788.70" y1="2435.00" x2="788.70" y2="2501.70" stroke-width="2.60"/>
<line x1="776.70" y1="2435.00" x2="800.70" y2="2435.00" stroke-width="2.60"/>
<line x1="776.70" y1="2501.70" x2="800.70" y2="2501.70" stroke-width="2.60"/>
<path d="M669.20 2346.70 H837.10 V2618.20 H669.20 Z" fill="none" stroke-width="3"/>
<line x1="657.90" y1="2618.20" x2="669.20" y2="2618.20" stroke-width="2.60"/>
<line x1="657.90" y1="2527.70" x2="669.20" y2="2527.70" stroke-width="2.60"/>
<line x1="657.90" y1="2436.90" x2="669.20" y2="2436.90" stroke-width="2.60"/>
<line x1="657.90" y1="2346.70" x2="669.20" y2="2346.70" stroke-width="2.60"/>
</g>
<text transform="translate(655.92 2629.08) scale(1.000 1)" text-anchor="end" font-size="30.40" >0.0</text>
<text transform="translate(655.92 2538.58) scale(1.000 1)" text-anchor="end" font-size="30.40" >0.5</text>
<text transform="translate(655.92 2447.78) scale(1.000 1)" text-anchor="end" font-size="30.40" >1.0</text>
<text transform="translate(655.92 2357.58) scale(1.000 1)" text-anchor="end" font-size="30.40" >1.5</text>
<text transform="translate(530.12 2461.00) rotate(-90)" text-anchor="middle" font-size="30.06" textLength="279.40" lengthAdjust="spacingAndGlyphs"><tspan >CD206</tspan><tspan font-size="22.24" dy="-12.92">+</tspan><tspan dy="12.92"> CD11b</tspan><tspan font-size="22.24" dy="-12.92">+</tspan><tspan dy="12.92">cells</tspan></text>
<text transform="translate(562.38 2462.50) rotate(-90)" text-anchor="middle" font-size="28.84" textLength="91.31" lengthAdjust="spacingAndGlyphs"><tspan >in CNS</tspan></text>
<text transform="translate(592.20 2457.30) rotate(-90)" text-anchor="middle" font-size="30.00" textLength="265.80" lengthAdjust="spacingAndGlyphs"><tspan >(Absolute counts/µl)</tspan></text>
<circle cx="517.80" cy="2649.40" r="7.80" fill="#0000c8" stroke="#000" stroke-width="2.60"/>
<text x="545.34" y="2658.50" font-size="27.92" textLength="330.63" lengthAdjust="spacingAndGlyphs"><tspan >WT littermate control (n=5)</tspan></text>
<circle cx="517.00" cy="2684.20" r="7.80" fill="#ee0000" stroke="#000" stroke-width="2.60"/>
<text x="544.74" y="2696.30" font-size="28.10" textLength="314.55" lengthAdjust="spacingAndGlyphs"><tspan font-style="italic">HexB</tspan><tspan font-style="italic" font-size="20.80" dy="-12.08">CreER</tspan><tspan font-style="italic" dy="12.08">: Csf1r</tspan><tspan font-style="italic" font-size="20.80" dy="-12.08">fl/fl</tspan><tspan dy="12.08"> (n=5)</tspan></text>
<rect x="1220.30" y="2542.30" width="46.80" height="74.40" fill="#c0c0fb" stroke="#000" stroke-width="2.60"/>
<rect x="1297.00" y="2559.30" width="47.00" height="57.40" fill="#fdc0c0" stroke="#000" stroke-width="2.60"/>
<circle cx="1244.20" cy="2439.00" r="7.90" fill="#0000c8" stroke="#000" stroke-width="2.60"/>
<circle cx="1244.20" cy="2529.80" r="7.90" fill="#0000c8" stroke="#000" stroke-width="2.60"/>
<circle cx="1226.70" cy="2564.70" r="7.90" fill="#0000c8" stroke="#000" stroke-width="2.60"/>
<circle cx="1261.50" cy="2579.80" r="7.90" fill="#0000c8" stroke="#000" stroke-width="2.60"/>
<circle cx="1226.70" cy="2585.80" r="7.90" fill="#0000c8" stroke="#000" stroke-width="2.60"/>
<circle cx="1320.50" cy="2516.20" r="7.90" fill="#ee0000" stroke="#000" stroke-width="2.60"/>
<circle cx="1320.50" cy="2533.50" r="7.90" fill="#ee0000" stroke="#000" stroke-width="2.60"/>
<circle cx="1320.50" cy="2557.00" r="7.90" fill="#ee0000" stroke="#000" stroke-width="2.60"/>
<circle cx="1338.00" cy="2583.40" r="7.90" fill="#ee0000" stroke="#000" stroke-width="2.60"/>
<circle cx="1303.20" cy="2595.00" r="7.90" fill="#ee0000" stroke="#000" stroke-width="2.60"/>
<g stroke="#000" stroke-linecap="butt">
<line x1="1244.20" y1="2513.20" x2="1244.20" y2="2567.00" stroke-width="2.60"/>
<line x1="1232.20" y1="2513.20" x2="1256.20" y2="2513.20" stroke-width="2.60"/>
<line x1="1232.20" y1="2567.00" x2="1256.20" y2="2567.00" stroke-width="2.60"/>
<line x1="1320.50" y1="2542.60" x2="1320.50" y2="2572.20" stroke-width="2.60"/>
<line x1="1308.50" y1="2542.60" x2="1332.50" y2="2542.60" stroke-width="2.60"/>
<line x1="1308.50" y1="2572.20" x2="1332.50" y2="2572.20" stroke-width="2.60"/>
<path d="M1193.40 2346.70 H1372.60 V2616.70 H1193.40 Z" fill="none" stroke-width="3"/>
<line x1="1181.40" y1="2616.70" x2="1193.40" y2="2616.70" stroke-width="2.60"/>
<line x1="1181.40" y1="2526.80" x2="1193.40" y2="2526.80" stroke-width="2.60"/>
<line x1="1181.40" y1="2436.60" x2="1193.40" y2="2436.60" stroke-width="2.60"/>
<line x1="1181.40" y1="2346.70" x2="1193.40" y2="2346.70" stroke-width="2.60"/>
</g>
<text transform="translate(1179.71 2627.51) scale(1.000 1)" text-anchor="end" font-size="30.20" >0.0</text>
<text transform="translate(1179.71 2537.61) scale(1.000 1)" text-anchor="end" font-size="30.20" >0.5</text>
<text transform="translate(1179.71 2447.41) scale(1.000 1)" text-anchor="end" font-size="30.20" >1.0</text>
<text transform="translate(1179.71 2357.51) scale(1.000 1)" text-anchor="end" font-size="30.20" >1.5</text>
<text transform="translate(1052.73 2476.00) rotate(-90)" text-anchor="middle" font-size="29.74" textLength="270.38" lengthAdjust="spacingAndGlyphs"><tspan >Lyve1</tspan><tspan font-size="22.01" dy="-12.79">+</tspan><tspan dy="12.79"> CD11b</tspan><tspan font-size="22.01" dy="-12.79">+</tspan><tspan dy="12.79"> cells</tspan></text>
<text transform="translate(1088.78 2477.50) rotate(-90)" text-anchor="middle" font-size="28.84" textLength="91.31" lengthAdjust="spacingAndGlyphs"><tspan >in CNS</tspan></text>
<text transform="translate(1123.91 2476.85) rotate(-90)" text-anchor="middle" font-size="29.65" textLength="262.67" lengthAdjust="spacingAndGlyphs"><tspan >(Absolute counts/µl)</tspan></text>
<circle cx="1039.00" cy="2648.80" r="7.80" fill="#0000c8" stroke="#000" stroke-width="2.60"/>
<text x="1068.87" y="2658.50" font-size="29.58" textLength="350.47" lengthAdjust="spacingAndGlyphs"><tspan >WT littermate control (n=5)</tspan></text>
<circle cx="1039.00" cy="2687.20" r="7.80" fill="#ee0000" stroke="#000" stroke-width="2.60"/>
<text x="1068.85" y="2697.80" font-size="29.93" textLength="335.19" lengthAdjust="spacingAndGlyphs"><tspan font-style="italic">HexB</tspan><tspan font-style="italic" font-size="22.15" dy="-12.87">CreER</tspan><tspan font-style="italic" dy="12.87">: Csf1r</tspan><tspan font-style="italic" font-size="22.15" dy="-12.87">fl/fl</tspan><tspan dy="12.87"> (n=5)</tspan></text>
<rect x="1748.00" y="2559.30" width="46.70" height="52.30" fill="#c0c0fb" stroke="#000" stroke-width="2.60"/>
<rect x="1824.30" y="2606.30" width="46.40" height="5.30" fill="#fdc0c0" stroke="#000" stroke-width="2.60"/>
<circle cx="1771.30" cy="2366.40" r="7.90" fill="#6060f4" stroke="#000" stroke-width="2.60"/>
<circle cx="1771.30" cy="2487.50" r="7.90" fill="#6060f4" stroke="#000" stroke-width="2.60"/>
<circle cx="1788.50" cy="2586.80" r="7.90" fill="#6060f4" stroke="#000" stroke-width="2.60"/>
<circle cx="1753.00" cy="2593.40" r="7.90" fill="#6060f4" stroke="#000" stroke-width="2.60"/>
<circle cx="1765.80" cy="2593.40" r="7.90" fill="#6060f4" stroke="#000" stroke-width="2.60"/>
<circle cx="1788.50" cy="2602.50" r="7.90" fill="#6060f4" stroke="#000" stroke-width="2.60"/>
<circle cx="1753.70" cy="2611.60" r="7.90" fill="#6060f4" stroke="#000" stroke-width="2.60"/>
<circle cx="1777.30" cy="2608.50" r="7.90" fill="#6060f4" stroke="#000" stroke-width="2.60"/>
<circle cx="1850.00" cy="2575.90" r="7.90" fill="#ee0000" stroke="#000" stroke-width="2.60"/>
<circle cx="1837.00" cy="2592.80" r="7.90" fill="#ee0000" stroke="#000" stroke-width="2.60"/>
<circle cx="1849.00" cy="2596.40" r="7.90" fill="#ee0000" stroke="#000" stroke-width="2.60"/>
<circle cx="1830.30" cy="2603.10" r="7.90" fill="#ee0000" stroke="#000" stroke-width="2.60"/>
<circle cx="1843.60" cy="2600.00" r="7.90" fill="#ee0000" stroke="#000" stroke-width="2.60"/>
<circle cx="1861.20" cy="2601.00" r="7.90" fill="#ee0000" stroke="#000" stroke-width="2.60"/>
<circle cx="1855.00" cy="2607.00" r="7.90" fill="#ee0000" stroke="#000" stroke-width="2.60"/>
<circle cx="1868.70" cy="2604.00" r="7.90" fill="#ee0000" stroke="#000" stroke-width="2.60"/>
<g stroke="#000" stroke-linecap="butt">
<line x1="1771.30" y1="2526.00" x2="1771.30" y2="2588.00" stroke-width="2.60"/>
<line x1="1759.30" y1="2526.00" x2="1783.30" y2="2526.00" stroke-width="2.60"/>
<line x1="1759.30" y1="2588.00" x2="1783.30" y2="2588.00" stroke-width="2.60"/>
<path d="M1719.50 2345.20 H1901.40 V2611.60 H1719.50 Z" fill="none" stroke-width="3"/>
<line x1="1707.90" y1="2611.60" x2="1719.50" y2="2611.60" stroke-width="2.60"/>
<line x1="1707.90" y1="2522.30" x2="1719.50" y2="2522.30" stroke-width="2.60"/>
<line x1="1707.90" y1="2434.00" x2="1719.50" y2="2434.00" stroke-width="2.60"/>
<line x1="1707.90" y1="2345.20" x2="1719.50" y2="2345.20" stroke-width="2.60"/>
</g>
<text transform="translate(1704.25 2621.91) scale(1.000 1)" text-anchor="end" font-size="28.80" >0</text>
<text transform="translate(1704.25 2532.61) scale(1.000 1)" text-anchor="end" font-size="28.80" >2</text>
<text transform="translate(1704.25 2444.31) scale(1.000 1)" text-anchor="end" font-size="28.80" >4</text>
<text transform="translate(1704.25 2355.51) scale(1.000 1)" text-anchor="end" font-size="28.80" >6</text>
<text transform="translate(1594.75 2473.80) rotate(-90)" text-anchor="middle" font-size="29.31" textLength="168.75" lengthAdjust="spacingAndGlyphs"><tspan >CD19</tspan><tspan font-size="21.69" dy="-12.60">+</tspan><tspan dy="12.60">B220</tspan><tspan font-size="21.69" dy="-12.60">+</tspan></text>
<text transform="translate(1638.64 2474.00) rotate(-90)" text-anchor="middle" font-size="29.56" textLength="226.36" lengthAdjust="spacingAndGlyphs"><tspan >of all CD45</tspan><tspan font-size="21.87" dy="-12.71">+</tspan><tspan dy="12.71"> cells</tspan></text>
<text transform="translate(1674.88 2467.80) rotate(-90)" text-anchor="middle" font-size="28.77" textLength="44.70" lengthAdjust="spacingAndGlyphs"><tspan >(%)</tspan></text>
<circle cx="1551.00" cy="2642.70" r="7.80" fill="#6060f4" stroke="#000" stroke-width="2.60"/>
<text x="1580.63" y="2652.40" font-size="30.40" textLength="360.23" lengthAdjust="spacingAndGlyphs"><tspan >WT littermate control (n=8)</tspan></text>
<circle cx="1551.00" cy="2678.80" r="7.80" fill="#ee0000" stroke="#000" stroke-width="2.60"/>
<text x="1582.83" y="2690.30" font-size="30.41" textLength="340.53" lengthAdjust="spacingAndGlyphs"><tspan font-style="italic">HexB</tspan><tspan font-style="italic" font-size="22.50" dy="-13.07">CreER</tspan><tspan font-style="italic" dy="13.07">: Csf1r</tspan><tspan font-style="italic" font-size="22.50" dy="-13.07">fl/fl</tspan><tspan dy="13.07"> (n=8)</tspan></text>
<text x="1506.20" y="2351.30" font-size="59.00">r</text>
</svg></body></html>
